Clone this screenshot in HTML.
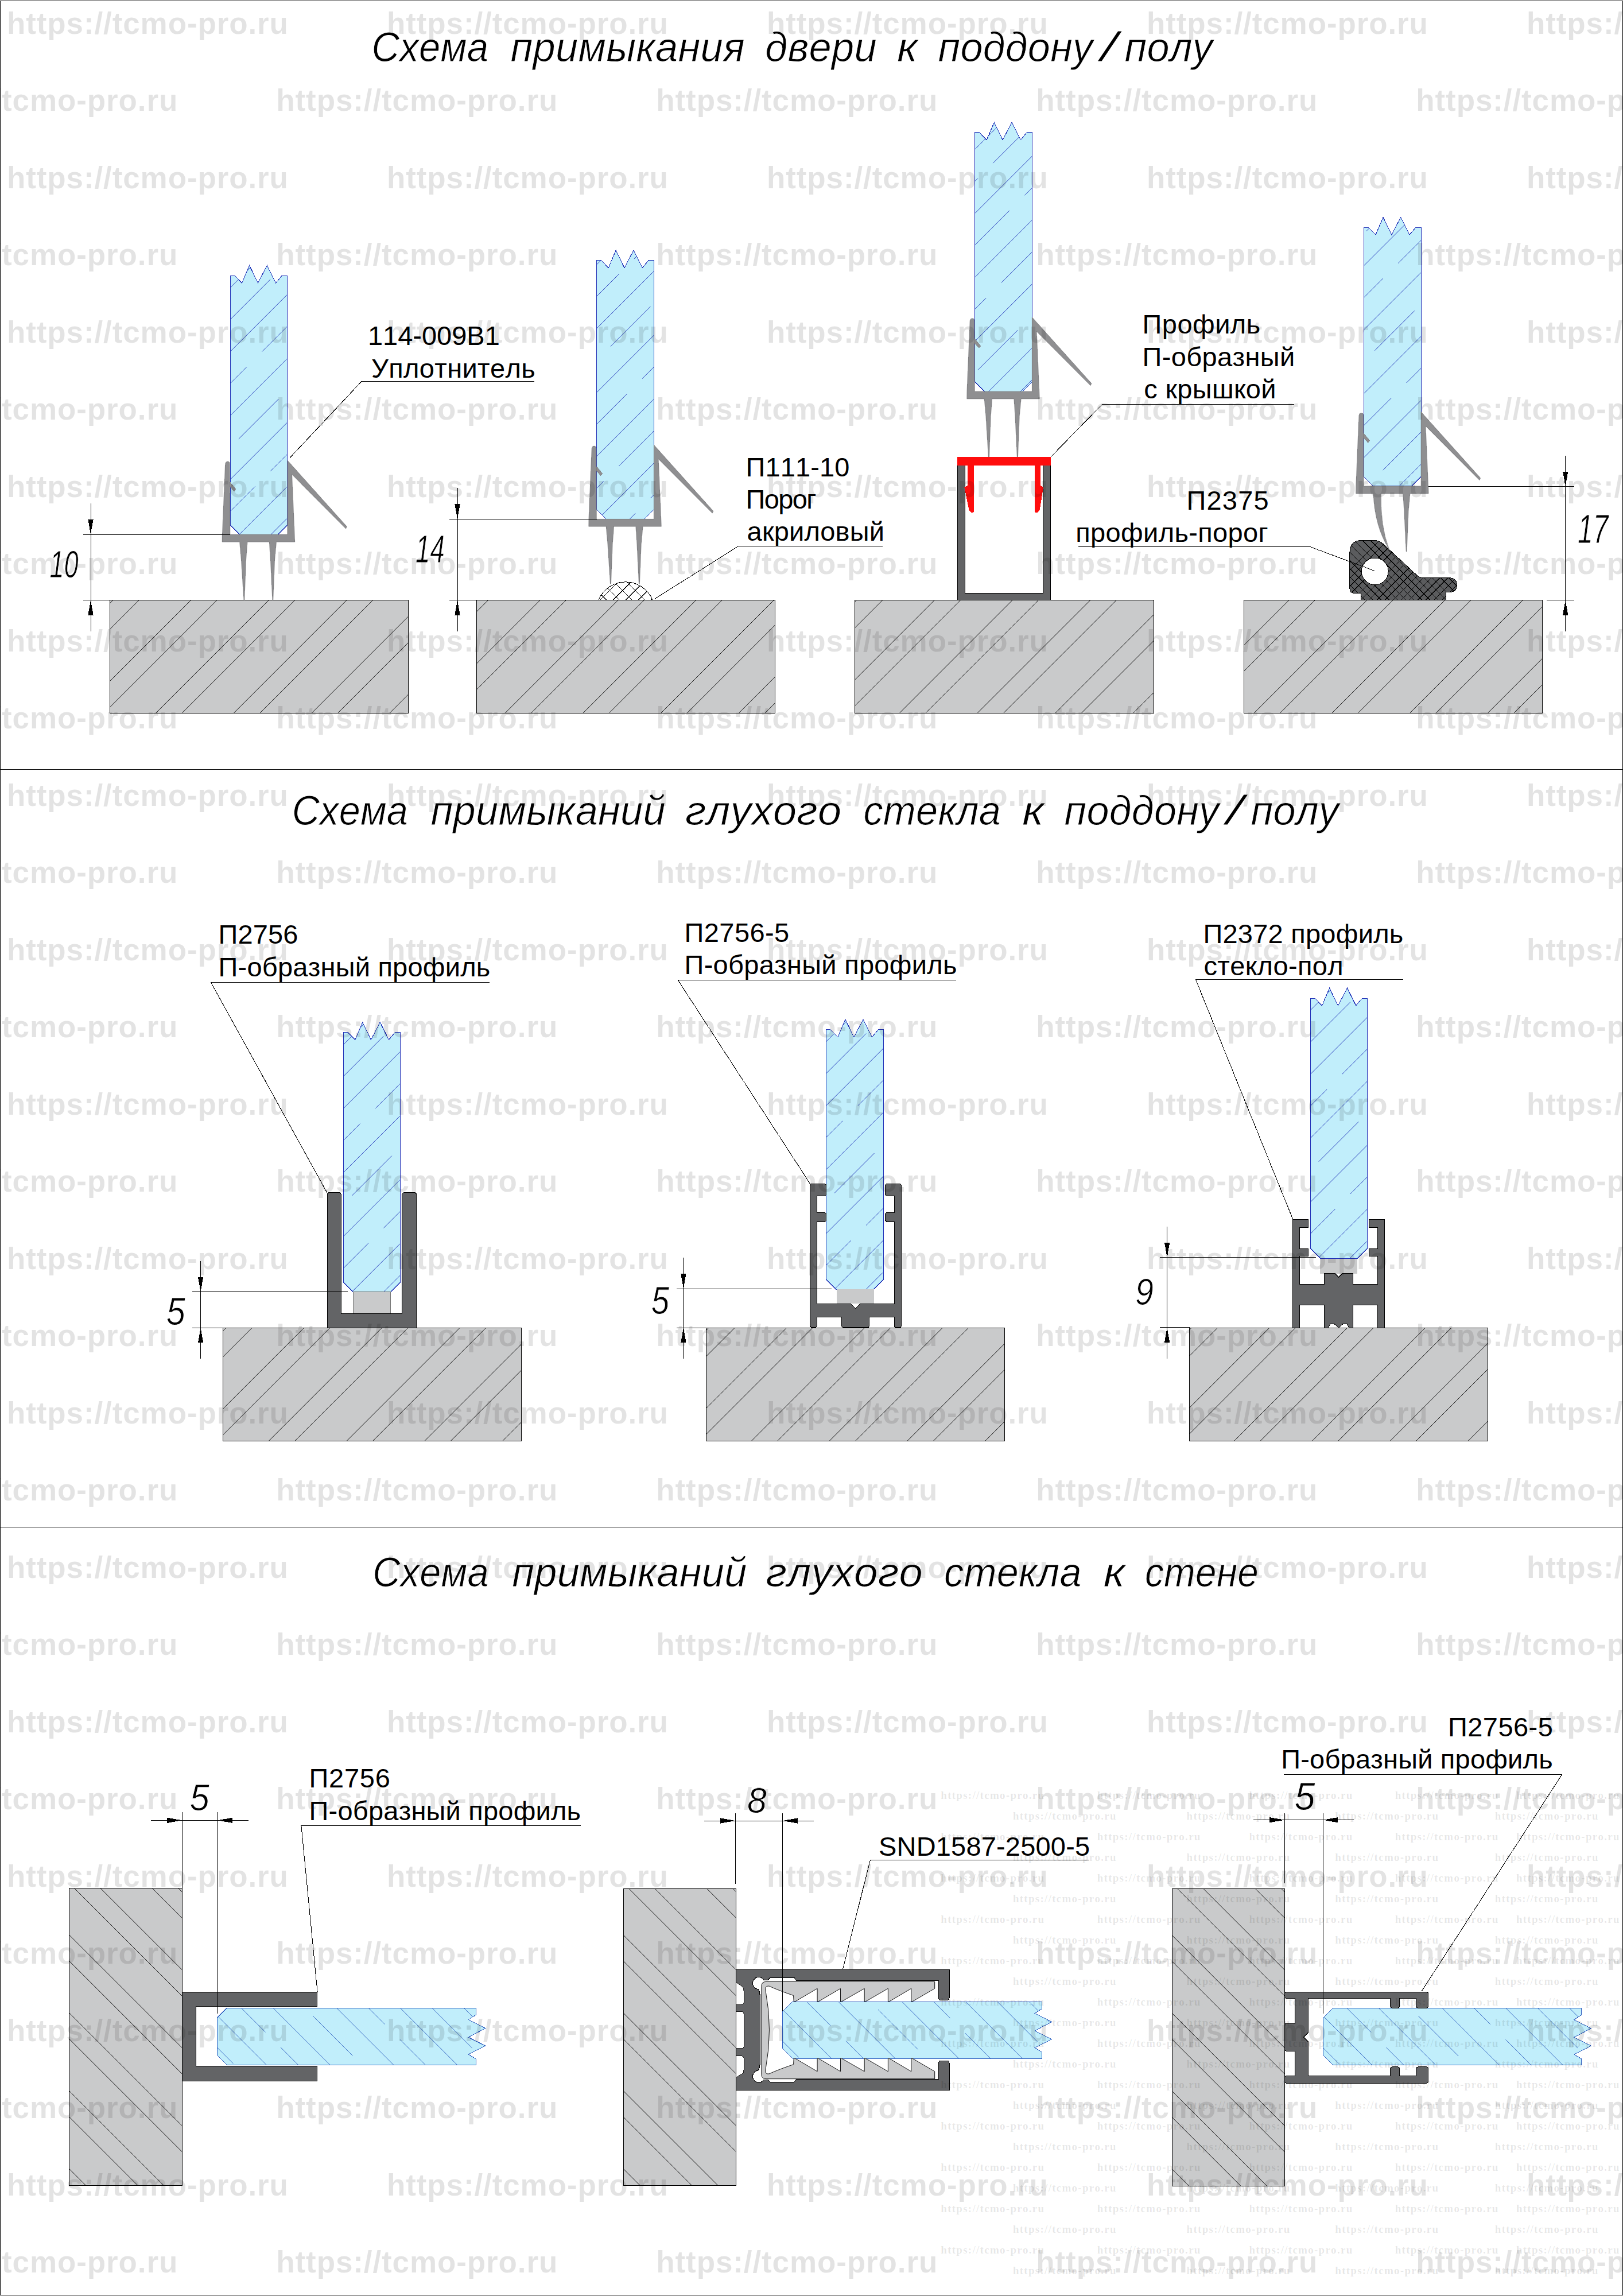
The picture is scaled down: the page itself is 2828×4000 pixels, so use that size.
<!DOCTYPE html>
<html lang="ru"><head><meta charset="utf-8"><title>Схема примыкания</title>
<style>html,body{margin:0;padding:0;background:#fff}svg{display:block}</style></head>
<body>
<svg width="2828" height="4000" viewBox="0 0 2828 4000" font-family="'Liberation Sans', Arial, Helvetica, sans-serif" fill="#000" shape-rendering="crispEdges" style="font-kerning:none;letter-spacing:0.3px">
<defs>
<clipPath id="c1"><rect x="191.4" y="1045.5" width="519.7" height="196.7"/></clipPath>
<clipPath id="c2"><rect x="830" y="1045.5" width="520" height="196.7"/></clipPath>
<clipPath id="c3"><rect x="1489.7" y="1045.5" width="520.3" height="196.7"/></clipPath>
<clipPath id="c4"><rect x="2167.3" y="1045.5" width="520" height="196.7"/></clipPath>
<clipPath id="c5"><polygon points="401.2,480 408.9,480 421.6,493 434.6,462.4 449.4,493 465.4,462.4 480.6,493 491.4,480 500.6,480 500.6,914.8 484.1,931.3 417.7,931.3 401.2,914.8"/></clipPath>
<clipPath id="c6"><polygon points="1039.8,453.6 1047.5,453.6 1060.2,466.6 1073.2,436 1088,466.6 1104,436 1119.2,466.6 1130,453.6 1139.2,453.6 1139.2,887.9 1122.7,904.4 1056.3,904.4 1039.8,887.9"/></clipPath>
<clipPath id="c7"><path d="M1043.1,1045 A51,51 0 0 1 1137,1045 Z"/></clipPath>
<clipPath id="c8"><polygon points="1698.8,230.7 1706.5,230.7 1719.2,243.7 1732.3,213.1 1747.1,243.7 1763.1,213.1 1778.4,243.7 1789.2,230.7 1798.4,230.7 1798.4,665.5 1781.9,682 1715.3,682 1698.8,665.5"/></clipPath>
<clipPath id="c9"><polygon points="2376.6,396 2384.3,396 2397,409 2410,378.4 2424.8,409 2440.8,378.4 2456,409 2466.8,396 2476,396 2476,830.4 2459.5,846.9 2393.1,846.9 2376.6,830.4"/></clipPath>
<clipPath id="c10"><path d="M2371.2,1045 L2371.2,1033.5 L2360,1033.5 Q2351.9,1033.5 2351.9,1025 L2351.9,963 Q2351.9,941.4 2373,941.4 L2394,941.4 Q2404,941.4 2411,948.5 L2468,1001.5 Q2473.5,1006.9 2482,1006.9 L2526,1006.9 Q2538.3,1006.9 2538.3,1019.2 Q2538.3,1031.5 2526,1031.5 L2519.7,1031.5 L2519.7,1045 Z"/></clipPath>
<clipPath id="c11"><rect x="388.3" y="2313.4" width="520.1" height="196.8"/></clipPath>
<clipPath id="c12"><rect x="1230.8" y="2313" width="519.5" height="197.4"/></clipPath>
<clipPath id="c13"><rect x="2072.6" y="2313" width="519.9" height="197.3"/></clipPath>
<clipPath id="c14"><polygon points="598.5,1798.5 606.2,1798.5 618.8,1811.5 631.7,1780.9 646.4,1811.5 662.3,1780.9 677.4,1811.5 688.2,1798.5 697.3,1798.5 697.3,2234.2 680.8,2250.7 615,2250.7 598.5,2234.2"/></clipPath>
<clipPath id="c15"><polygon points="1439.3,1793.8 1447.1,1793.8 1459.9,1806.8 1473,1776.2 1487.9,1806.8 1504,1776.2 1519.3,1806.8 1530.2,1793.8 1539.5,1793.8 1539.5,2228.8 1522,2246.3 1456.8,2246.3 1439.3,2228.8"/></clipPath>
<clipPath id="c16"><polygon points="2283.1,1739 2290.8,1739 2303.6,1752 2316.6,1721.4 2331.4,1752 2347.5,1721.4 2362.7,1752 2373.6,1739 2382.8,1739 2382.8,2174.7 2365.3,2192.2 2300.6,2192.2 2283.1,2174.7"/></clipPath>
<clipPath id="c17"><rect x="120.4" y="3289.8" width="196.9" height="517.4"/></clipPath>
<clipPath id="c18"><rect x="1086.3" y="3290.2" width="195.9" height="517.6"/></clipPath>
<clipPath id="c19"><rect x="2042.3" y="3290.6" width="196" height="517.4"/></clipPath>
<clipPath id="c20"><polygon points="395.6,3498 829,3498 829,3510.3 816.2,3518.7 845.8,3533.5 816.2,3549.3 845.8,3564.1 816.2,3578.9 829,3586.8 829,3597.6 395.6,3597.6 378.6,3580.6 378.6,3515"/></clipPath>
<clipPath id="c21"><polygon points="1381.1,3487 1815.8,3487 1815.8,3499.3 1803,3507.6 1832.6,3522.4 1803,3538 1832.6,3552.7 1803,3567.5 1815.8,3575.3 1815.8,3586.1 1381.1,3586.1 1363.6,3568.6 1363.6,3504.5"/></clipPath>
<clipPath id="c22"><polygon points="2322.6,3498.2 2755.5,3498.2 2755.5,3510.5 2742.7,3518.9 2772.3,3533.7 2742.7,3549.4 2772.3,3564.2 2742.7,3579 2755.5,3586.9 2755.5,3597.7 2322.6,3597.7 2305.1,3580.2 2305.1,3515.7"/></clipPath>
</defs>
<rect x="0" y="0" width="2828" height="4000" fill="#fff"/>
<text x="647.5" y="106.6" font-size="73" font-style="italic" stroke="#fff" stroke-width="0.9" textLength="203.8" lengthAdjust="spacingAndGlyphs">Схема</text>
<text x="889.4" y="106.6" font-size="73" font-style="italic" stroke="#fff" stroke-width="0.9" textLength="408.6" lengthAdjust="spacingAndGlyphs">примыкания</text>
<text x="1333.2" y="106.6" font-size="73" font-style="italic" stroke="#fff" stroke-width="0.9" textLength="194.8" lengthAdjust="spacingAndGlyphs">двери</text>
<text x="1563.1" y="106.6" font-size="73" font-style="italic" stroke="#fff" stroke-width="0.9" textLength="36.4" lengthAdjust="spacingAndGlyphs">к</text>
<text x="1634.6" y="106.6" font-size="73" font-style="italic" stroke="#fff" stroke-width="0.9" textLength="269.8" lengthAdjust="spacingAndGlyphs">поддону</text>
<text x="1917.8" y="106.6" font-size="73" font-style="italic" stroke="#fff" stroke-width="0.9" textLength="29.4" lengthAdjust="spacingAndGlyphs">/</text>
<text x="1959.6" y="106.6" font-size="73" font-style="italic" stroke="#fff" stroke-width="0.9" textLength="153.7" lengthAdjust="spacingAndGlyphs">полу</text>
<text x="508.7" y="1436.8" font-size="73" font-style="italic" stroke="#fff" stroke-width="0.9" textLength="202.5" lengthAdjust="spacingAndGlyphs">Схема</text>
<text x="750.6" y="1436.8" font-size="73" font-style="italic" stroke="#fff" stroke-width="0.9" textLength="409.4" lengthAdjust="spacingAndGlyphs">примыканий</text>
<text x="1194" y="1436.8" font-size="73" font-style="italic" stroke="#fff" stroke-width="0.9" textLength="272.4" lengthAdjust="spacingAndGlyphs">глухого</text>
<text x="1504.4" y="1436.8" font-size="73" font-style="italic" stroke="#fff" stroke-width="0.9" textLength="239.7" lengthAdjust="spacingAndGlyphs">стекла</text>
<text x="1781.1" y="1436.8" font-size="73" font-style="italic" stroke="#fff" stroke-width="0.9" textLength="38.6" lengthAdjust="spacingAndGlyphs">к</text>
<text x="1854.6" y="1436.8" font-size="73" font-style="italic" stroke="#fff" stroke-width="0.9" textLength="269.9" lengthAdjust="spacingAndGlyphs">поддону</text>
<text x="2136.7" y="1436.8" font-size="73" font-style="italic" stroke="#fff" stroke-width="0.9" textLength="29.7" lengthAdjust="spacingAndGlyphs">/</text>
<text x="2179.6" y="1436.8" font-size="73" font-style="italic" stroke="#fff" stroke-width="0.9" textLength="153.7" lengthAdjust="spacingAndGlyphs">полу</text>
<text x="649.3" y="2763.8" font-size="73" font-style="italic" stroke="#fff" stroke-width="0.9" textLength="202.6" lengthAdjust="spacingAndGlyphs">Схема</text>
<text x="892.2" y="2763.8" font-size="73" font-style="italic" stroke="#fff" stroke-width="0.9" textLength="409.4" lengthAdjust="spacingAndGlyphs">примыканий</text>
<text x="1334.6" y="2763.8" font-size="73" font-style="italic" stroke="#fff" stroke-width="0.9" textLength="273.5" lengthAdjust="spacingAndGlyphs">глухого</text>
<text x="1645" y="2763.8" font-size="73" font-style="italic" stroke="#fff" stroke-width="0.9" textLength="239.7" lengthAdjust="spacingAndGlyphs">стекла</text>
<text x="1922.4" y="2763.8" font-size="73" font-style="italic" stroke="#fff" stroke-width="0.9" textLength="38.5" lengthAdjust="spacingAndGlyphs">к</text>
<text x="1995" y="2763.8" font-size="73" font-style="italic" stroke="#fff" stroke-width="0.9" textLength="198.1" lengthAdjust="spacingAndGlyphs">стене</text>
<rect x="191.4" y="1045.5" width="519.7" height="196.7" fill="#c9cacb" stroke="#000" stroke-width="1"/>
<g clip-path="url(#c1)" stroke="#000" stroke-width="0.9" shape-rendering="geometricPrecision">
<line x1="196.8" y1="1045.5" x2="0.1" y2="1242.2"/>
<line x1="242.2" y1="1045.5" x2="45.5" y2="1242.2"/>
<line x1="332.6" y1="1045.5" x2="135.9" y2="1242.2"/>
<line x1="378" y1="1045.5" x2="181.3" y2="1242.2"/>
<line x1="468.4" y1="1045.5" x2="271.7" y2="1242.2"/>
<line x1="513.8" y1="1045.5" x2="317.1" y2="1242.2"/>
<line x1="604.2" y1="1045.5" x2="407.5" y2="1242.2"/>
<line x1="649.6" y1="1045.5" x2="452.9" y2="1242.2"/>
<line x1="740" y1="1045.5" x2="543.3" y2="1242.2"/>
<line x1="785.4" y1="1045.5" x2="588.7" y2="1242.2"/>
<line x1="875.8" y1="1045.5" x2="679.1" y2="1242.2"/>
</g>
<rect x="830" y="1045.5" width="520" height="196.7" fill="#c9cacb" stroke="#000" stroke-width="1"/>
<g clip-path="url(#c2)" stroke="#000" stroke-width="0.9" shape-rendering="geometricPrecision">
<line x1="850.7" y1="1045.5" x2="654" y2="1242.2"/>
<line x1="941.1" y1="1045.5" x2="744.4" y2="1242.2"/>
<line x1="986.5" y1="1045.5" x2="789.8" y2="1242.2"/>
<line x1="1076.9" y1="1045.5" x2="880.2" y2="1242.2"/>
<line x1="1122.3" y1="1045.5" x2="925.6" y2="1242.2"/>
<line x1="1212.7" y1="1045.5" x2="1016" y2="1242.2"/>
<line x1="1258.1" y1="1045.5" x2="1061.4" y2="1242.2"/>
<line x1="1348.5" y1="1045.5" x2="1151.8" y2="1242.2"/>
<line x1="1393.9" y1="1045.5" x2="1197.2" y2="1242.2"/>
<line x1="1484.3" y1="1045.5" x2="1287.6" y2="1242.2"/>
<line x1="1529.7" y1="1045.5" x2="1333" y2="1242.2"/>
</g>
<rect x="1489.7" y="1045.5" width="520.3" height="196.7" fill="#c9cacb" stroke="#000" stroke-width="1"/>
<g clip-path="url(#c3)" stroke="#000" stroke-width="0.9" shape-rendering="geometricPrecision">
<line x1="1492.5" y1="1045.5" x2="1295.8" y2="1242.2"/>
<line x1="1537.9" y1="1045.5" x2="1341.2" y2="1242.2"/>
<line x1="1628.3" y1="1045.5" x2="1431.6" y2="1242.2"/>
<line x1="1673.7" y1="1045.5" x2="1477" y2="1242.2"/>
<line x1="1764.1" y1="1045.5" x2="1567.4" y2="1242.2"/>
<line x1="1809.5" y1="1045.5" x2="1612.8" y2="1242.2"/>
<line x1="1899.9" y1="1045.5" x2="1703.2" y2="1242.2"/>
<line x1="1945.3" y1="1045.5" x2="1748.6" y2="1242.2"/>
<line x1="2035.7" y1="1045.5" x2="1839" y2="1242.2"/>
<line x1="2081.1" y1="1045.5" x2="1884.4" y2="1242.2"/>
<line x1="2171.5" y1="1045.5" x2="1974.8" y2="1242.2"/>
</g>
<rect x="2167.3" y="1045.5" width="520" height="196.7" fill="#c9cacb" stroke="#000" stroke-width="1"/>
<g clip-path="url(#c4)" stroke="#000" stroke-width="0.9" shape-rendering="geometricPrecision">
<line x1="2246" y1="1045.5" x2="2049.3" y2="1242.2"/>
<line x1="2291.4" y1="1045.5" x2="2094.7" y2="1242.2"/>
<line x1="2381.8" y1="1045.5" x2="2185.1" y2="1242.2"/>
<line x1="2427.2" y1="1045.5" x2="2230.5" y2="1242.2"/>
<line x1="2517.6" y1="1045.5" x2="2320.9" y2="1242.2"/>
<line x1="2563" y1="1045.5" x2="2366.3" y2="1242.2"/>
<line x1="2653.4" y1="1045.5" x2="2456.7" y2="1242.2"/>
<line x1="2698.8" y1="1045.5" x2="2502.1" y2="1242.2"/>
<line x1="2789.2" y1="1045.5" x2="2592.5" y2="1242.2"/>
<line x1="2834.6" y1="1045.5" x2="2637.9" y2="1242.2"/>
</g>
<polygon points="401.2,480 408.9,480 421.6,493 434.6,462.4 449.4,493 465.4,462.4 480.6,493 491.4,480 500.6,480 500.6,914.8 484.1,931.3 417.7,931.3 401.2,914.8" fill="#c1eefb" stroke="#2132b8" stroke-width="1"/>
<g clip-path="url(#c5)" stroke="#2132b8" stroke-width="0.9" shape-rendering="geometricPrecision">
<line x1="401.2" y1="278.4" x2="500.6" y2="179"/>
<line x1="401.2" y1="389.8" x2="500.6" y2="290.4"/>
<line x1="401.2" y1="501.2" x2="500.6" y2="401.8"/>
<line x1="401.2" y1="612.6" x2="500.6" y2="513.2"/>
<line x1="401.2" y1="724" x2="500.6" y2="624.6"/>
<line x1="401.2" y1="835.4" x2="500.6" y2="736"/>
<line x1="401.2" y1="946.8" x2="500.6" y2="847.4"/>
<line x1="401.2" y1="1058.2" x2="500.6" y2="958.8"/>
<line x1="401.2" y1="1169.6" x2="500.6" y2="1070.2"/>
<line x1="387.1" y1="347.9" x2="456.6" y2="278.4"/>
<line x1="483.1" y1="251.9" x2="552.6" y2="182.4"/>
<line x1="346.3" y1="500.1" x2="415.8" y2="430.6"/>
<line x1="442.3" y1="404.1" x2="511.8" y2="334.6"/>
<line x1="401.5" y1="556.3" x2="471" y2="486.8"/>
<line x1="497.5" y1="460.3" x2="567" y2="390.8"/>
<line x1="360.7" y1="708.5" x2="430.2" y2="639"/>
<line x1="456.7" y1="612.5" x2="526.2" y2="543"/>
<line x1="415.9" y1="764.7" x2="485.4" y2="695.2"/>
<line x1="375.1" y1="916.9" x2="444.6" y2="847.4"/>
<line x1="471.1" y1="820.9" x2="540.6" y2="751.4"/>
<line x1="334.3" y1="1069.1" x2="403.8" y2="999.6"/>
<line x1="430.3" y1="973.1" x2="499.8" y2="903.6"/>
<line x1="389.5" y1="1125.3" x2="459" y2="1055.8"/>
<line x1="485.5" y1="1029.3" x2="555" y2="959.8"/>
<line x1="348.7" y1="1277.5" x2="418.2" y2="1208"/>
<line x1="444.7" y1="1181.5" x2="514.2" y2="1112"/>
</g>
<g transform="translate(0,0)">
<path d="M400.3,808 L400.8,931.3 L500.8,931.3 L500.8,802 L604.3,917.3 L602.6,921 L508.6,826.5 L513.7,944.1 L481.5,944.1 L478.6,975 L475.8,1045.1 L474.8,1045.1 L471.4,975 L469.3,944.1 L431,944.1 L428.6,975 L425.9,1045.1 L424.9,1045.1 L420.4,975 L417.6,944.1 L387.2,944.1 L387.4,931 L392.6,808 Q393.2,804 396.6,804 Q400.2,804 400.3,808 Z" fill="#8f8f91" stroke="#77777a" stroke-width="0.7" stroke-linejoin="round"/>
<polygon points="400.9,839.5 411.2,852 408.2,855.6 400.9,847.5" fill="#8f8f91" stroke="#77777a" stroke-width="0.7"/>
</g>
<line x1="145" y1="931" x2="401" y2="931" stroke="#000" stroke-width="1"/>
<line x1="145" y1="1045.5" x2="191.4" y2="1045.5" stroke="#000" stroke-width="1"/>
<line x1="158" y1="877" x2="158" y2="1099.5" stroke="#000" stroke-width="1"/>
<polygon points="158,931 153.4,905 162.6,905" fill="#000"/>
<polygon points="158,1045.5 153.4,1071.5 162.6,1071.5" fill="#000"/>
<text x="86.6" y="1006" font-size="66.8" font-style="italic" stroke="#fff" stroke-width="0.9" textLength="50.2" lengthAdjust="spacingAndGlyphs">10</text>
<text x="641" y="600.5" font-size="47" textLength="230.1" lengthAdjust="spacing">114-009B1</text>
<text x="647" y="658" font-size="47" textLength="286" lengthAdjust="spacing">Уплотнитель</text>
<polyline points="930.6,664.4 630,664.4 505,797.7" fill="none" stroke="#000" stroke-width="1"/>
<polygon points="1039.8,453.6 1047.5,453.6 1060.2,466.6 1073.2,436 1088,466.6 1104,436 1119.2,466.6 1130,453.6 1139.2,453.6 1139.2,887.9 1122.7,904.4 1056.3,904.4 1039.8,887.9" fill="#c1eefb" stroke="#2132b8" stroke-width="1"/>
<g clip-path="url(#c6)" stroke="#2132b8" stroke-width="0.9" shape-rendering="geometricPrecision">
<line x1="1039.8" y1="238" x2="1139.2" y2="138.6"/>
<line x1="1039.8" y1="349.4" x2="1139.2" y2="250"/>
<line x1="1039.8" y1="460.8" x2="1139.2" y2="361.4"/>
<line x1="1039.8" y1="572.2" x2="1139.2" y2="472.8"/>
<line x1="1039.8" y1="683.6" x2="1139.2" y2="584.2"/>
<line x1="1039.8" y1="795" x2="1139.2" y2="695.6"/>
<line x1="1039.8" y1="906.4" x2="1139.2" y2="807"/>
<line x1="1039.8" y1="1017.8" x2="1139.2" y2="918.4"/>
<line x1="1039.8" y1="1129.2" x2="1139.2" y2="1029.8"/>
<line x1="994.4" y1="338.8" x2="1063.9" y2="269.3"/>
<line x1="1090.4" y1="242.8" x2="1159.9" y2="173.3"/>
<line x1="1049.6" y1="395" x2="1119.1" y2="325.5"/>
<line x1="1008.8" y1="547.2" x2="1078.3" y2="477.7"/>
<line x1="1104.8" y1="451.2" x2="1174.3" y2="381.7"/>
<line x1="1064" y1="603.4" x2="1133.5" y2="533.9"/>
<line x1="1023.2" y1="755.6" x2="1092.7" y2="686.1"/>
<line x1="1119.2" y1="659.6" x2="1188.7" y2="590.1"/>
<line x1="982.4" y1="907.8" x2="1051.9" y2="838.3"/>
<line x1="1078.4" y1="811.8" x2="1147.9" y2="742.3"/>
<line x1="1037.6" y1="964" x2="1107.1" y2="894.5"/>
<line x1="1133.6" y1="868" x2="1203.1" y2="798.5"/>
<line x1="996.8" y1="1116.2" x2="1066.3" y2="1046.7"/>
<line x1="1092.8" y1="1020.2" x2="1162.3" y2="950.7"/>
<line x1="1052" y1="1172.4" x2="1121.5" y2="1102.9"/>
</g>
<path d="M1043.1,1045 A51,51 0 0 1 1137,1045 Z" fill="#fff" stroke="#000" stroke-width="1"/>
<g clip-path="url(#c7)" stroke="#000" stroke-width="1">
<line x1="1023.6" y1="1045" x2="1063.6" y2="1005"/>
<line x1="1045.8" y1="1045" x2="1085.8" y2="1005"/>
<line x1="1068.4" y1="1045" x2="1108.4" y2="1005"/>
<line x1="1090.3" y1="1045" x2="1130.3" y2="1005"/>
<line x1="1112.4" y1="1045" x2="1152.4" y2="1005"/>
<line x1="1134.6" y1="1045" x2="1174.6" y2="1005"/>
<line x1="1056.7" y1="1045" x2="1016.7" y2="1005"/>
<line x1="1078.9" y1="1045" x2="1038.9" y2="1005"/>
<line x1="1101" y1="1045" x2="1061" y2="1005"/>
<line x1="1123.2" y1="1045" x2="1083.2" y2="1005"/>
<line x1="1145.4" y1="1045" x2="1105.4" y2="1005"/>
</g>
<g transform="translate(638.6,-26.9)">
<path d="M400.3,808 L400.8,931.3 L500.8,931.3 L500.8,802 L604.3,917.3 L602.6,921 L508.6,826.5 L513.7,944.1 L481.5,944.1 L478.6,975 L475.8,1044.1 L474.8,1044.1 L471.4,975 L469.3,944.1 L431,944.1 L428.6,975 L425.9,1044.1 L424.9,1044.1 L420.4,975 L417.6,944.1 L387.2,944.1 L387.4,931 L392.6,808 Q393.2,804 396.6,804 Q400.2,804 400.3,808 Z" fill="#8f8f91" stroke="#77777a" stroke-width="0.7" stroke-linejoin="round"/>
<polygon points="400.9,839.5 411.2,852 408.2,855.6 400.9,847.5" fill="#8f8f91" stroke="#77777a" stroke-width="0.7"/>
</g>
<line x1="782.7" y1="904.4" x2="1039.8" y2="904.4" stroke="#000" stroke-width="1"/>
<line x1="782.7" y1="1045.5" x2="830" y2="1045.5" stroke="#000" stroke-width="1"/>
<line x1="797" y1="850.4" x2="797" y2="1099.5" stroke="#000" stroke-width="1"/>
<polygon points="797,904.4 792.4,878.4 801.6,878.4" fill="#000"/>
<polygon points="797,1045.5 792.4,1071.5 801.6,1071.5" fill="#000"/>
<text x="724.1" y="980.4" font-size="69.4" font-style="italic" stroke="#fff" stroke-width="0.9" textLength="50.9" lengthAdjust="spacingAndGlyphs">14</text>
<text x="1299.6" y="829.7" font-size="47" textLength="181.1" lengthAdjust="spacing">П111-10</text>
<text x="1299.5" y="885.7" font-size="47" textLength="123.1" lengthAdjust="spacing">Порог</text>
<text x="1301.6" y="942.4" font-size="47" textLength="239.7" lengthAdjust="spacing">акриловый</text>
<polyline points="1538.2,951 1287.3,951 1140.6,1043.5" fill="none" stroke="#000" stroke-width="1"/>
<polygon points="1698.8,230.7 1706.5,230.7 1719.2,243.7 1732.3,213.1 1747.1,243.7 1763.1,213.1 1778.4,243.7 1789.2,230.7 1798.4,230.7 1798.4,665.5 1781.9,682 1715.3,682 1698.8,665.5" fill="#c1eefb" stroke="#2132b8" stroke-width="1"/>
<g clip-path="url(#c8)" stroke="#2132b8" stroke-width="0.9" shape-rendering="geometricPrecision">
<line x1="1698.8" y1="37.4" x2="1798.4" y2="-62.2"/>
<line x1="1698.8" y1="148.8" x2="1798.4" y2="49.2"/>
<line x1="1698.8" y1="260.2" x2="1798.4" y2="160.6"/>
<line x1="1698.8" y1="371.6" x2="1798.4" y2="272"/>
<line x1="1698.8" y1="483" x2="1798.4" y2="383.4"/>
<line x1="1698.8" y1="594.4" x2="1798.4" y2="494.8"/>
<line x1="1698.8" y1="705.8" x2="1798.4" y2="606.2"/>
<line x1="1698.8" y1="817.2" x2="1798.4" y2="717.6"/>
<line x1="1698.8" y1="928.6" x2="1798.4" y2="829"/>
<line x1="1715.9" y1="75.7" x2="1785.4" y2="6.2"/>
<line x1="1675.1" y1="227.9" x2="1744.6" y2="158.4"/>
<line x1="1771.1" y1="131.9" x2="1840.6" y2="62.4"/>
<line x1="1634.3" y1="380.1" x2="1703.8" y2="310.6"/>
<line x1="1730.3" y1="284.1" x2="1799.8" y2="214.6"/>
<line x1="1689.5" y1="436.3" x2="1759" y2="366.8"/>
<line x1="1785.5" y1="340.3" x2="1855" y2="270.8"/>
<line x1="1648.7" y1="588.5" x2="1718.2" y2="519"/>
<line x1="1744.7" y1="492.5" x2="1814.2" y2="423"/>
<line x1="1703.9" y1="644.7" x2="1773.4" y2="575.2"/>
<line x1="1663.1" y1="796.9" x2="1732.6" y2="727.4"/>
<line x1="1759.1" y1="700.9" x2="1828.6" y2="631.4"/>
<line x1="1718.3" y1="853.1" x2="1787.8" y2="783.6"/>
<line x1="1677.5" y1="1005.3" x2="1747" y2="935.8"/>
<line x1="1773.5" y1="909.3" x2="1843" y2="839.8"/>
</g>
<g transform="translate(1297.6,-249.3)">
<path d="M400.3,808 L400.8,931.3 L500.8,931.3 L500.8,802 L604.3,917.3 L602.6,921 L508.6,826.5 L513.7,944.1 L481.5,944.1 L478.6,975 L475.8,1047.1 L474.8,1047.1 L471.4,975 L469.3,944.1 L431,944.1 L428.6,975 L425.9,1047.1 L424.9,1047.1 L420.4,975 L417.6,944.1 L387.2,944.1 L387.4,931 L392.6,808 Q393.2,804 396.6,804 Q400.2,804 400.3,808 Z" fill="#8f8f91" stroke="#77777a" stroke-width="0.7" stroke-linejoin="round"/>
<polygon points="400.9,839.5 411.2,852 408.2,855.6 400.9,847.5" fill="#8f8f91" stroke="#77777a" stroke-width="0.7"/>
</g>
<path d="M1668.4,809.9 L1668.4,1045.2 L1830.7,1045.2 L1830.7,809.9 L1817.2,809.9 L1817.2,1033 L1681.3,1033 L1681.3,809.9 Z" fill="#636466" stroke="#000" stroke-width="1"/>
<path d="M1668.4,797 L1830.7,797 L1830.7,809.9 L1812.2,809.9 L1812.2,846 L1817.4,849.5 L1811,888 Q1809,892.5 1805.5,892.5 Q1803.3,892.5 1803.3,889 L1803.3,809.9 L1696.7,809.9 L1696.7,889 Q1696.7,892.5 1694.3,892.5 Q1691,892.5 1689,888 L1681.1,849.5 L1686.9,846 L1686.9,809.9 L1668.4,809.9 Z" fill="#ff0d0d" stroke="#ff0d0d" stroke-width="1.2" stroke-linejoin="round"/>
<text x="1990.6" y="581" font-size="47" textLength="205.9" lengthAdjust="spacing">Профиль</text>
<text x="1990.6" y="638" font-size="47" textLength="265.9" lengthAdjust="spacing">П-образный</text>
<text x="1993.2" y="694" font-size="47" textLength="230.7" lengthAdjust="spacing">с крышкой</text>
<polyline points="2254.5,704.3 1920.6,704.3 1831,796" fill="none" stroke="#000" stroke-width="1"/>
<polygon points="2376.6,396 2384.3,396 2397,409 2410,378.4 2424.8,409 2440.8,378.4 2456,409 2466.8,396 2476,396 2476,830.4 2459.5,846.9 2393.1,846.9 2376.6,830.4" fill="#c1eefb" stroke="#2132b8" stroke-width="1"/>
<g clip-path="url(#c9)" stroke="#2132b8" stroke-width="0.9" shape-rendering="geometricPrecision">
<line x1="2376.6" y1="240" x2="2476" y2="140.6"/>
<line x1="2376.6" y1="351.4" x2="2476" y2="252"/>
<line x1="2376.6" y1="462.8" x2="2476" y2="363.4"/>
<line x1="2376.6" y1="574.2" x2="2476" y2="474.8"/>
<line x1="2376.6" y1="685.6" x2="2476" y2="586.2"/>
<line x1="2376.6" y1="797" x2="2476" y2="697.6"/>
<line x1="2376.6" y1="908.4" x2="2476" y2="809"/>
<line x1="2376.6" y1="1019.8" x2="2476" y2="920.4"/>
<line x1="2376.6" y1="1131.2" x2="2476" y2="1031.8"/>
<line x1="2325.8" y1="346.2" x2="2395.3" y2="276.7"/>
<line x1="2421.8" y1="250.2" x2="2491.3" y2="180.7"/>
<line x1="2381" y1="402.4" x2="2450.5" y2="332.9"/>
<line x1="2340.2" y1="554.6" x2="2409.7" y2="485.1"/>
<line x1="2436.2" y1="458.6" x2="2505.7" y2="389.1"/>
<line x1="2395.4" y1="610.8" x2="2464.9" y2="541.3"/>
<line x1="2354.6" y1="763" x2="2424.1" y2="693.5"/>
<line x1="2450.6" y1="667" x2="2520.1" y2="597.5"/>
<line x1="2313.8" y1="915.2" x2="2383.3" y2="845.7"/>
<line x1="2409.8" y1="819.2" x2="2479.3" y2="749.7"/>
<line x1="2369" y1="971.4" x2="2438.5" y2="901.9"/>
<line x1="2465" y1="875.4" x2="2534.5" y2="805.9"/>
<line x1="2328.2" y1="1123.6" x2="2397.7" y2="1054.1"/>
<line x1="2424.2" y1="1027.6" x2="2493.7" y2="958.1"/>
<line x1="2383.4" y1="1179.8" x2="2452.9" y2="1110.3"/>
</g>
<g transform="translate(1975.4,-84.4)">
<path d="M400.3,808 L400.8,931.3 L500.8,931.3 L500.8,802 L604.3,917.3 L602.6,921 L508.6,826.5 L513.7,944.1 L481.5,944.1 L478.6,975 L475.8,1045.1 L474.8,1045.1 L471.4,975 L469.3,944.1 L431,944.1 Q429.5,1000 444.7,1040.5 Q420.5,1003 417.6,944.1 L387.2,944.1 L387.4,931 L392.6,808 Q393.2,804 396.6,804 Q400.2,804 400.3,808 Z" fill="#8f8f91" stroke="#77777a" stroke-width="0.7" stroke-linejoin="round"/>
<polygon points="400.9,839.5 411.2,852 408.2,855.6 400.9,847.5" fill="#8f8f91" stroke="#77777a" stroke-width="0.7"/>
</g>
<path d="M2371.2,1045 L2371.2,1033.5 L2360,1033.5 Q2351.9,1033.5 2351.9,1025 L2351.9,963 Q2351.9,941.4 2373,941.4 L2394,941.4 Q2404,941.4 2411,948.5 L2468,1001.5 Q2473.5,1006.9 2482,1006.9 L2526,1006.9 Q2538.3,1006.9 2538.3,1019.2 Q2538.3,1031.5 2526,1031.5 L2519.7,1031.5 L2519.7,1045 Z" fill="#5b5c5e" stroke="#000" stroke-width="1"/>
<g clip-path="url(#c10)" stroke="#000" stroke-width="1">
<line x1="2300" y1="1045" x2="2420" y2="925"/>
<line x1="2307" y1="1045" x2="2187" y2="925"/>
<line x1="2314.2" y1="1045" x2="2434.2" y2="925"/>
<line x1="2321.2" y1="1045" x2="2201.2" y2="925"/>
<line x1="2328.4" y1="1045" x2="2448.4" y2="925"/>
<line x1="2335.4" y1="1045" x2="2215.4" y2="925"/>
<line x1="2342.6" y1="1045" x2="2462.6" y2="925"/>
<line x1="2349.6" y1="1045" x2="2229.6" y2="925"/>
<line x1="2356.8" y1="1045" x2="2476.8" y2="925"/>
<line x1="2363.8" y1="1045" x2="2243.8" y2="925"/>
<line x1="2371" y1="1045" x2="2491" y2="925"/>
<line x1="2378" y1="1045" x2="2258" y2="925"/>
<line x1="2385.2" y1="1045" x2="2505.2" y2="925"/>
<line x1="2392.2" y1="1045" x2="2272.2" y2="925"/>
<line x1="2399.4" y1="1045" x2="2519.4" y2="925"/>
<line x1="2406.4" y1="1045" x2="2286.4" y2="925"/>
<line x1="2413.6" y1="1045" x2="2533.6" y2="925"/>
<line x1="2420.6" y1="1045" x2="2300.6" y2="925"/>
<line x1="2427.8" y1="1045" x2="2547.8" y2="925"/>
<line x1="2434.8" y1="1045" x2="2314.8" y2="925"/>
<line x1="2442" y1="1045" x2="2562" y2="925"/>
<line x1="2449" y1="1045" x2="2329" y2="925"/>
<line x1="2456.2" y1="1045" x2="2576.2" y2="925"/>
<line x1="2463.2" y1="1045" x2="2343.2" y2="925"/>
<line x1="2470.4" y1="1045" x2="2590.4" y2="925"/>
<line x1="2477.4" y1="1045" x2="2357.4" y2="925"/>
<line x1="2484.6" y1="1045" x2="2604.6" y2="925"/>
<line x1="2491.6" y1="1045" x2="2371.6" y2="925"/>
<line x1="2498.8" y1="1045" x2="2618.8" y2="925"/>
<line x1="2505.8" y1="1045" x2="2385.8" y2="925"/>
<line x1="2513" y1="1045" x2="2633" y2="925"/>
<line x1="2520" y1="1045" x2="2400" y2="925"/>
<line x1="2527.2" y1="1045" x2="2647.2" y2="925"/>
<line x1="2534.2" y1="1045" x2="2414.2" y2="925"/>
<line x1="2541.4" y1="1045" x2="2661.4" y2="925"/>
<line x1="2548.4" y1="1045" x2="2428.4" y2="925"/>
<line x1="2555.6" y1="1045" x2="2675.6" y2="925"/>
<line x1="2562.6" y1="1045" x2="2442.6" y2="925"/>
<line x1="2569.8" y1="1045" x2="2689.8" y2="925"/>
<line x1="2576.8" y1="1045" x2="2456.8" y2="925"/>
<line x1="2584" y1="1045" x2="2704" y2="925"/>
<line x1="2591" y1="1045" x2="2471" y2="925"/>
<line x1="2598.2" y1="1045" x2="2718.2" y2="925"/>
<line x1="2605.2" y1="1045" x2="2485.2" y2="925"/>
<line x1="2612.4" y1="1045" x2="2732.4" y2="925"/>
<line x1="2619.4" y1="1045" x2="2499.4" y2="925"/>
<line x1="2626.6" y1="1045" x2="2746.6" y2="925"/>
<line x1="2633.6" y1="1045" x2="2513.6" y2="925"/>
<line x1="2640.8" y1="1045" x2="2760.8" y2="925"/>
<line x1="2647.8" y1="1045" x2="2527.8" y2="925"/>
<line x1="2655" y1="1045" x2="2775" y2="925"/>
<line x1="2662" y1="1045" x2="2542" y2="925"/>
<line x1="2669.2" y1="1045" x2="2789.2" y2="925"/>
<line x1="2676.2" y1="1045" x2="2556.2" y2="925"/>
<line x1="2683.4" y1="1045" x2="2803.4" y2="925"/>
<line x1="2690.4" y1="1045" x2="2570.4" y2="925"/>
<line x1="2697.6" y1="1045" x2="2817.6" y2="925"/>
<line x1="2704.6" y1="1045" x2="2584.6" y2="925"/>
</g>
<circle cx="2395.8" cy="995.4" r="23.4" fill="#fff" stroke="#000" stroke-width="1"/>
<line x1="2489" y1="847.5" x2="2742.6" y2="847.5" stroke="#000" stroke-width="1"/>
<line x1="2694.6" y1="1045.5" x2="2742.6" y2="1045.5" stroke="#000" stroke-width="1"/>
<line x1="2727.7" y1="793.5" x2="2727.7" y2="1099.5" stroke="#000" stroke-width="1"/>
<polygon points="2727.7,847.5 2723.1,821.5 2732.3,821.5" fill="#000"/>
<polygon points="2727.7,1045.5 2723.1,1071.5 2732.3,1071.5" fill="#000"/>
<text x="2749" y="946.4" font-size="71" font-style="italic" stroke="#fff" stroke-width="0.9" textLength="53.5" lengthAdjust="spacingAndGlyphs">17</text>
<text x="2067.5" y="888" font-size="47" textLength="143.5" lengthAdjust="spacing">П2375</text>
<text x="1874.2" y="943.7" font-size="47" textLength="335.8" lengthAdjust="spacing">профиль-порог</text>
<polyline points="1879,952.2 2281.8,952.2 2394.8,994.4" fill="none" stroke="#000" stroke-width="1"/>
<rect x="388.3" y="2313.4" width="520.1" height="196.8" fill="#c9cacb" stroke="#000" stroke-width="1"/>
<g clip-path="url(#c11)" stroke="#000" stroke-width="0.9" shape-rendering="geometricPrecision">
<line x1="393.7" y1="2313.4" x2="196.9" y2="2510.2"/>
<line x1="439.1" y1="2313.4" x2="242.3" y2="2510.2"/>
<line x1="529.5" y1="2313.4" x2="332.7" y2="2510.2"/>
<line x1="574.9" y1="2313.4" x2="378.1" y2="2510.2"/>
<line x1="665.3" y1="2313.4" x2="468.5" y2="2510.2"/>
<line x1="710.7" y1="2313.4" x2="513.9" y2="2510.2"/>
<line x1="801.1" y1="2313.4" x2="604.3" y2="2510.2"/>
<line x1="846.5" y1="2313.4" x2="649.7" y2="2510.2"/>
<line x1="936.9" y1="2313.4" x2="740.1" y2="2510.2"/>
<line x1="982.3" y1="2313.4" x2="785.5" y2="2510.2"/>
<line x1="1072.7" y1="2313.4" x2="875.9" y2="2510.2"/>
</g>
<rect x="1230.8" y="2313" width="519.5" height="197.4" fill="#c9cacb" stroke="#000" stroke-width="1"/>
<g clip-path="url(#c12)" stroke="#000" stroke-width="0.9" shape-rendering="geometricPrecision">
<line x1="1235.1" y1="2313" x2="1037.7" y2="2510.4"/>
<line x1="1280.5" y1="2313" x2="1083.1" y2="2510.4"/>
<line x1="1370.9" y1="2313" x2="1173.5" y2="2510.4"/>
<line x1="1416.3" y1="2313" x2="1218.9" y2="2510.4"/>
<line x1="1506.7" y1="2313" x2="1309.3" y2="2510.4"/>
<line x1="1552.1" y1="2313" x2="1354.7" y2="2510.4"/>
<line x1="1642.5" y1="2313" x2="1445.1" y2="2510.4"/>
<line x1="1687.9" y1="2313" x2="1490.5" y2="2510.4"/>
<line x1="1778.3" y1="2313" x2="1580.9" y2="2510.4"/>
<line x1="1823.7" y1="2313" x2="1626.3" y2="2510.4"/>
<line x1="1914.1" y1="2313" x2="1716.7" y2="2510.4"/>
</g>
<rect x="2072.6" y="2313" width="519.9" height="197.3" fill="#c9cacb" stroke="#000" stroke-width="1"/>
<g clip-path="url(#c13)" stroke="#000" stroke-width="0.9" shape-rendering="geometricPrecision">
<line x1="2076.4" y1="2313" x2="1879.1" y2="2510.3"/>
<line x1="2121.8" y1="2313" x2="1924.5" y2="2510.3"/>
<line x1="2212.2" y1="2313" x2="2014.9" y2="2510.3"/>
<line x1="2257.6" y1="2313" x2="2060.3" y2="2510.3"/>
<line x1="2348" y1="2313" x2="2150.7" y2="2510.3"/>
<line x1="2393.4" y1="2313" x2="2196.1" y2="2510.3"/>
<line x1="2483.8" y1="2313" x2="2286.5" y2="2510.3"/>
<line x1="2529.2" y1="2313" x2="2331.9" y2="2510.3"/>
<line x1="2619.6" y1="2313" x2="2422.3" y2="2510.3"/>
<line x1="2665" y1="2313" x2="2467.7" y2="2510.3"/>
<line x1="2755.4" y1="2313" x2="2558.1" y2="2510.3"/>
</g>
<polygon points="598.5,1798.5 606.2,1798.5 618.8,1811.5 631.7,1780.9 646.4,1811.5 662.3,1780.9 677.4,1811.5 688.2,1798.5 697.3,1798.5 697.3,2234.2 680.8,2250.7 615,2250.7 598.5,2234.2" fill="#c1eefb" stroke="#2132b8" stroke-width="1"/>
<g clip-path="url(#c14)" stroke="#2132b8" stroke-width="0.9" shape-rendering="geometricPrecision">
<line x1="598.5" y1="1596.9" x2="697.3" y2="1498.1"/>
<line x1="598.5" y1="1708.3" x2="697.3" y2="1609.5"/>
<line x1="598.5" y1="1819.7" x2="697.3" y2="1720.9"/>
<line x1="598.5" y1="1931.1" x2="697.3" y2="1832.3"/>
<line x1="598.5" y1="2042.5" x2="697.3" y2="1943.7"/>
<line x1="598.5" y1="2153.9" x2="697.3" y2="2055.1"/>
<line x1="598.5" y1="2265.3" x2="697.3" y2="2166.5"/>
<line x1="598.5" y1="2376.7" x2="697.3" y2="2277.9"/>
<line x1="598.5" y1="2488.1" x2="697.3" y2="2389.3"/>
<line x1="584.4" y1="1666.4" x2="653.9" y2="1596.9"/>
<line x1="680.4" y1="1570.4" x2="749.9" y2="1500.9"/>
<line x1="543.6" y1="1818.6" x2="613.1" y2="1749.1"/>
<line x1="639.6" y1="1722.6" x2="709.1" y2="1653.1"/>
<line x1="598.8" y1="1874.8" x2="668.3" y2="1805.3"/>
<line x1="694.8" y1="1778.8" x2="764.3" y2="1709.3"/>
<line x1="558" y1="2027" x2="627.5" y2="1957.5"/>
<line x1="654" y1="1931" x2="723.5" y2="1861.5"/>
<line x1="613.2" y1="2083.2" x2="682.7" y2="2013.7"/>
<line x1="572.4" y1="2235.4" x2="641.9" y2="2165.9"/>
<line x1="668.4" y1="2139.4" x2="737.9" y2="2069.9"/>
<line x1="531.6" y1="2387.6" x2="601.1" y2="2318.1"/>
<line x1="627.6" y1="2291.6" x2="697.1" y2="2222.1"/>
<line x1="586.8" y1="2443.8" x2="656.3" y2="2374.3"/>
<line x1="682.8" y1="2347.8" x2="752.3" y2="2278.3"/>
<line x1="546" y1="2596" x2="615.5" y2="2526.5"/>
<line x1="642" y1="2500" x2="711.5" y2="2430.5"/>
</g>
<rect x="615.7" y="2250.7" width="64.8" height="37.7" fill="#c9cacb" stroke="#777" stroke-width="1"/>
<path d="M570.6,2080 L573,2077.6 L592,2077.6 L594.3,2080 L594.3,2288.4 L700.8,2288.4 L700.8,2080 L703.2,2077.6 L723.2,2077.6 L725.6,2080 L725.6,2313.3 L570.6,2313.3 Z" fill="#636466" stroke="#000" stroke-width="1"/>
<line x1="335.4" y1="2250.7" x2="606" y2="2250.7" stroke="#000" stroke-width="1"/>
<line x1="335.4" y1="2313.3" x2="388.3" y2="2313.3" stroke="#000" stroke-width="1"/>
<line x1="349.6" y1="2196.7" x2="349.6" y2="2367.3" stroke="#000" stroke-width="1"/>
<polygon points="349.6,2250.7 345,2224.7 354.2,2224.7" fill="#000"/>
<polygon points="349.6,2313.3 345,2339.3 354.2,2339.3" fill="#000"/>
<text x="289.7" y="2308.4" font-size="68.4" font-style="italic" stroke="#fff" stroke-width="0.9" textLength="33.3" lengthAdjust="spacingAndGlyphs">5</text>
<text x="380.5" y="1644.1" font-size="47" textLength="139.3" lengthAdjust="spacing">П2756</text>
<text x="380.6" y="1701" font-size="47" textLength="474" lengthAdjust="spacing">П-образный профиль</text>
<polyline points="852.9,1711.8 367.7,1711.8 569.6,2077.5" fill="none" stroke="#000" stroke-width="1"/>
<polygon points="1439.3,1793.8 1447.1,1793.8 1459.9,1806.8 1473,1776.2 1487.9,1806.8 1504,1776.2 1519.3,1806.8 1530.2,1793.8 1539.5,1793.8 1539.5,2228.8 1522,2246.3 1456.8,2246.3 1439.3,2228.8" fill="#c1eefb" stroke="#2132b8" stroke-width="1"/>
<g clip-path="url(#c15)" stroke="#2132b8" stroke-width="0.9" shape-rendering="geometricPrecision">
<line x1="1439.3" y1="1592.2" x2="1539.5" y2="1492"/>
<line x1="1439.3" y1="1703.6" x2="1539.5" y2="1603.4"/>
<line x1="1439.3" y1="1815" x2="1539.5" y2="1714.8"/>
<line x1="1439.3" y1="1926.4" x2="1539.5" y2="1826.2"/>
<line x1="1439.3" y1="2037.8" x2="1539.5" y2="1937.6"/>
<line x1="1439.3" y1="2149.2" x2="1539.5" y2="2049"/>
<line x1="1439.3" y1="2260.6" x2="1539.5" y2="2160.4"/>
<line x1="1439.3" y1="2372" x2="1539.5" y2="2271.8"/>
<line x1="1439.3" y1="2483.4" x2="1539.5" y2="2383.2"/>
<line x1="1425.2" y1="1661.7" x2="1494.7" y2="1592.2"/>
<line x1="1521.2" y1="1565.7" x2="1590.7" y2="1496.2"/>
<line x1="1384.4" y1="1813.9" x2="1453.9" y2="1744.4"/>
<line x1="1480.4" y1="1717.9" x2="1549.9" y2="1648.4"/>
<line x1="1439.6" y1="1870.1" x2="1509.1" y2="1800.6"/>
<line x1="1535.6" y1="1774.1" x2="1605.1" y2="1704.6"/>
<line x1="1398.8" y1="2022.3" x2="1468.3" y2="1952.8"/>
<line x1="1494.8" y1="1926.3" x2="1564.3" y2="1856.8"/>
<line x1="1454" y1="2078.5" x2="1523.5" y2="2009"/>
<line x1="1413.2" y1="2230.7" x2="1482.7" y2="2161.2"/>
<line x1="1509.2" y1="2134.7" x2="1578.7" y2="2065.2"/>
<line x1="1372.4" y1="2382.9" x2="1441.9" y2="2313.4"/>
<line x1="1468.4" y1="2286.9" x2="1537.9" y2="2217.4"/>
<line x1="1427.6" y1="2439.1" x2="1497.1" y2="2369.6"/>
<line x1="1523.6" y1="2343.1" x2="1593.1" y2="2273.6"/>
<line x1="1386.8" y1="2591.3" x2="1456.3" y2="2521.8"/>
<line x1="1482.8" y1="2495.3" x2="1552.3" y2="2425.8"/>
</g>
<rect x="1457.9" y="2246.3" width="65.1" height="24.9" fill="#c9cacb" stroke="none" stroke-width="0"/>
<path d="M1411.7,2066.3 Q1411.7,2062.3 1415.7,2062.3 L1435.8,2062.3 Q1439.8,2062.3 1439.8,2066.3 L1439.8,2079.6 Q1439.8,2083.6 1435.8,2083.6 L1423.2,2083.6 L1423.2,2112.3 L1435.8,2112.3 Q1439.8,2112.3 1439.8,2116.3 L1439.8,2124.3 Q1439.8,2128.3 1435.8,2128.3 L1423.2,2128.3 L1423.2,2271.2 L1482.3,2271.2 L1490.6,2279.5 L1498.9,2271.2 L1558.1,2271.2 L1558.1,2128.3 L1546.4,2128.3 Q1542.4,2128.3 1542.4,2124.3 L1542.4,2116.3 Q1542.4,2112.3 1546.4,2112.3 L1558.1,2112.3 L1558.1,2083.6 L1546.4,2083.6 Q1542.4,2083.6 1542.4,2079.6 L1542.4,2066.3 Q1542.4,2062.3 1546.4,2062.3 L1566.7,2062.3 Q1570.7,2062.3 1570.7,2066.3 L1570.7,2308.8 Q1570.7,2312.8 1566.7,2312.8 L1562.1,2312.8 Q1558.1,2312.8 1558.1,2308.8 L1558.1,2294.3 L1514.7,2294.3 L1514.7,2308.8 Q1514.7,2312.8 1510.7,2312.8 L1470.6,2312.8 Q1466.6,2312.8 1466.6,2308.8 L1466.6,2294.3 L1423.2,2294.3 L1423.2,2308.8 Q1423.2,2312.8 1419.2,2312.8 L1415.7,2312.8 Q1411.7,2312.8 1411.7,2308.8 Z" fill="#636466" stroke="#000" stroke-width="1"/>
<line x1="1178.5" y1="2245.1" x2="1449" y2="2245.1" stroke="#000" stroke-width="1"/>
<line x1="1178.5" y1="2313" x2="1230.8" y2="2313" stroke="#000" stroke-width="1"/>
<line x1="1190.9" y1="2191.1" x2="1190.9" y2="2367" stroke="#000" stroke-width="1"/>
<polygon points="1190.9,2245.1 1186.3,2219.1 1195.5,2219.1" fill="#000"/>
<polygon points="1190.9,2313 1186.3,2339 1195.5,2339" fill="#000"/>
<text x="1134.7" y="2288.6" font-size="68.4" font-style="italic" stroke="#fff" stroke-width="0.9" textLength="31.6" lengthAdjust="spacingAndGlyphs">5</text>
<text x="1192.6" y="1640.6" font-size="47" textLength="182.9" lengthAdjust="spacing">П2756-5</text>
<text x="1192.6" y="1696.7" font-size="47" textLength="475.2" lengthAdjust="spacing">П-образный профиль</text>
<polyline points="1666.2,1707 1181,1707 1411.7,2062.5" fill="none" stroke="#000" stroke-width="1"/>
<polygon points="2283.1,1739 2290.8,1739 2303.6,1752 2316.6,1721.4 2331.4,1752 2347.5,1721.4 2362.7,1752 2373.6,1739 2382.8,1739 2382.8,2174.7 2365.3,2192.2 2300.6,2192.2 2283.1,2174.7" fill="#c1eefb" stroke="#2132b8" stroke-width="1"/>
<g clip-path="url(#c16)" stroke="#2132b8" stroke-width="0.9" shape-rendering="geometricPrecision">
<line x1="2283.1" y1="1537.4" x2="2382.8" y2="1437.7"/>
<line x1="2283.1" y1="1648.8" x2="2382.8" y2="1549.1"/>
<line x1="2283.1" y1="1760.2" x2="2382.8" y2="1660.5"/>
<line x1="2283.1" y1="1871.6" x2="2382.8" y2="1771.9"/>
<line x1="2283.1" y1="1983" x2="2382.8" y2="1883.3"/>
<line x1="2283.1" y1="2094.4" x2="2382.8" y2="1994.7"/>
<line x1="2283.1" y1="2205.8" x2="2382.8" y2="2106.1"/>
<line x1="2283.1" y1="2317.2" x2="2382.8" y2="2217.5"/>
<line x1="2283.1" y1="2428.6" x2="2382.8" y2="2328.9"/>
<line x1="2269" y1="1606.9" x2="2338.5" y2="1537.4"/>
<line x1="2365" y1="1510.9" x2="2434.5" y2="1441.4"/>
<line x1="2228.2" y1="1759.1" x2="2297.7" y2="1689.6"/>
<line x1="2324.2" y1="1663.1" x2="2393.7" y2="1593.6"/>
<line x1="2283.4" y1="1815.3" x2="2352.9" y2="1745.8"/>
<line x1="2379.4" y1="1719.3" x2="2448.9" y2="1649.8"/>
<line x1="2242.6" y1="1967.5" x2="2312.1" y2="1898"/>
<line x1="2338.6" y1="1871.5" x2="2408.1" y2="1802"/>
<line x1="2297.8" y1="2023.7" x2="2367.3" y2="1954.2"/>
<line x1="2257" y1="2175.9" x2="2326.5" y2="2106.4"/>
<line x1="2353" y1="2079.9" x2="2422.5" y2="2010.4"/>
<line x1="2216.2" y1="2328.1" x2="2285.7" y2="2258.6"/>
<line x1="2312.2" y1="2232.1" x2="2381.7" y2="2162.6"/>
<line x1="2271.4" y1="2384.3" x2="2340.9" y2="2314.8"/>
<line x1="2367.4" y1="2288.3" x2="2436.9" y2="2218.8"/>
<line x1="2230.6" y1="2536.5" x2="2300.1" y2="2467"/>
<line x1="2326.6" y1="2440.5" x2="2396.1" y2="2371"/>
</g>
<rect x="2300.1" y="2192.5" width="64.7" height="26.1" fill="#c9cacb" stroke="none" stroke-width="0"/>
<path d="M2252.1,2124.4 L2279.8,2124.4 L2279.8,2138.8 L2264.5,2138.8 L2264.5,2175.6 L2279.8,2175.6 L2279.8,2188.7 L2264.5,2188.7 L2264.5,2237.5 L2307.5,2237.5 L2307.5,2218.6 L2326,2218.6 L2332.5,2225.1 L2339,2218.6 L2357.4,2218.6 L2357.4,2237.5 L2400.3,2237.5 L2400.3,2188.7 L2385.2,2188.7 L2385.2,2175.6 L2400.3,2175.6 L2400.3,2138.8 L2385.2,2138.8 L2385.2,2124.4 L2412.5,2124.4 L2412.5,2313.3 L2400.3,2313.3 L2400.3,2273.5 L2357.4,2273.5 L2357.4,2313.3 L2350.6,2313.3 L2347.6,2306.8 L2339.6,2306.8 L2332.5,2313.3 L2325.4,2306.8 L2317.4,2306.8 L2314.4,2313.3 L2307.5,2313.3 L2307.5,2273.5 L2264.5,2273.5 L2264.5,2313.3 L2252.1,2313.3 Z" fill="#636466" stroke="#000" stroke-width="1"/>
<line x1="2021.1" y1="2190.9" x2="2292.6" y2="2190.9" stroke="#000" stroke-width="1"/>
<line x1="2021.1" y1="2312.9" x2="2072.6" y2="2312.9" stroke="#000" stroke-width="1"/>
<line x1="2033.6" y1="2136.9" x2="2033.6" y2="2366.9" stroke="#000" stroke-width="1"/>
<polygon points="2033.6,2190.9 2029,2164.9 2038.2,2164.9" fill="#000"/>
<polygon points="2033.6,2312.9 2029,2338.9 2038.2,2338.9" fill="#000"/>
<text x="1978.1" y="2273.4" font-size="65.7" font-style="italic" stroke="#fff" stroke-width="0.9" textLength="32.2" lengthAdjust="spacingAndGlyphs">9</text>
<text x="2096.4" y="1642.8" font-size="47" textLength="349.2" lengthAdjust="spacing">П2372 профиль</text>
<text x="2097.4" y="1698.9" font-size="47" textLength="243.6" lengthAdjust="spacing">стекло-пол</text>
<polyline points="2444.9,1706.6 2083.5,1706.6 2252.6,2123.7" fill="none" stroke="#000" stroke-width="1"/>
<rect x="120.4" y="3289.8" width="196.9" height="517.4" fill="#c9cacb" stroke="#000" stroke-width="1"/>
<g clip-path="url(#c17)" stroke="#000" stroke-width="0.9" shape-rendering="geometricPrecision">
<line x1="120.4" y1="3099.2" x2="317.3" y2="3296.1"/>
<line x1="120.4" y1="3144.6" x2="317.3" y2="3341.5"/>
<line x1="120.4" y1="3235" x2="317.3" y2="3431.9"/>
<line x1="120.4" y1="3280.4" x2="317.3" y2="3477.3"/>
<line x1="120.4" y1="3370.8" x2="317.3" y2="3567.7"/>
<line x1="120.4" y1="3416.2" x2="317.3" y2="3613.1"/>
<line x1="120.4" y1="3506.6" x2="317.3" y2="3703.5"/>
<line x1="120.4" y1="3552" x2="317.3" y2="3748.9"/>
<line x1="120.4" y1="3642.4" x2="317.3" y2="3839.3"/>
<line x1="120.4" y1="3687.8" x2="317.3" y2="3884.7"/>
<line x1="120.4" y1="3778.2" x2="317.3" y2="3975.1"/>
</g>
<rect x="1086.3" y="3290.2" width="195.9" height="517.6" fill="#c9cacb" stroke="#000" stroke-width="1"/>
<g clip-path="url(#c18)" stroke="#000" stroke-width="0.9" shape-rendering="geometricPrecision">
<line x1="1086.3" y1="3099.6" x2="1282.2" y2="3295.5"/>
<line x1="1086.3" y1="3145" x2="1282.2" y2="3340.9"/>
<line x1="1086.3" y1="3235.4" x2="1282.2" y2="3431.3"/>
<line x1="1086.3" y1="3280.8" x2="1282.2" y2="3476.7"/>
<line x1="1086.3" y1="3371.2" x2="1282.2" y2="3567.1"/>
<line x1="1086.3" y1="3416.6" x2="1282.2" y2="3612.5"/>
<line x1="1086.3" y1="3507" x2="1282.2" y2="3702.9"/>
<line x1="1086.3" y1="3552.4" x2="1282.2" y2="3748.3"/>
<line x1="1086.3" y1="3642.8" x2="1282.2" y2="3838.7"/>
<line x1="1086.3" y1="3688.2" x2="1282.2" y2="3884.1"/>
<line x1="1086.3" y1="3778.6" x2="1282.2" y2="3974.5"/>
</g>
<rect x="2042.3" y="3290.6" width="196" height="517.4" fill="#c9cacb" stroke="#000" stroke-width="1"/>
<g clip-path="url(#c19)" stroke="#000" stroke-width="0.9" shape-rendering="geometricPrecision">
<line x1="2042.3" y1="3100" x2="2238.3" y2="3296"/>
<line x1="2042.3" y1="3145.4" x2="2238.3" y2="3341.4"/>
<line x1="2042.3" y1="3235.8" x2="2238.3" y2="3431.8"/>
<line x1="2042.3" y1="3281.2" x2="2238.3" y2="3477.2"/>
<line x1="2042.3" y1="3371.6" x2="2238.3" y2="3567.6"/>
<line x1="2042.3" y1="3417" x2="2238.3" y2="3613"/>
<line x1="2042.3" y1="3507.4" x2="2238.3" y2="3703.4"/>
<line x1="2042.3" y1="3552.8" x2="2238.3" y2="3748.8"/>
<line x1="2042.3" y1="3643.2" x2="2238.3" y2="3839.2"/>
<line x1="2042.3" y1="3688.6" x2="2238.3" y2="3884.6"/>
<line x1="2042.3" y1="3779" x2="2238.3" y2="3975"/>
</g>
<polygon points="395.6,3498 829,3498 829,3510.3 816.2,3518.7 845.8,3533.5 816.2,3549.3 845.8,3564.1 816.2,3578.9 829,3586.8 829,3597.6 395.6,3597.6 378.6,3580.6 378.6,3515" fill="#c1eefb" stroke="#2f5fc0" stroke-width="1"/>
<g clip-path="url(#c20)" stroke="#2f5fc0" stroke-width="0.9" shape-rendering="geometricPrecision">
<line x1="254" y1="3498" x2="353.6" y2="3597.6"/>
<line x1="364.8" y1="3498" x2="464.4" y2="3597.6"/>
<line x1="475.6" y1="3498" x2="575.2" y2="3597.6"/>
<line x1="586.4" y1="3498" x2="686" y2="3597.6"/>
<line x1="697.2" y1="3498" x2="796.8" y2="3597.6"/>
<line x1="808" y1="3498" x2="907.6" y2="3597.6"/>
<line x1="918.8" y1="3498" x2="1018.4" y2="3597.6"/>
<line x1="1029.6" y1="3498" x2="1129.2" y2="3597.6"/>
<line x1="241" y1="3429.6" x2="310.5" y2="3499.1"/>
<line x1="337" y1="3525.6" x2="406.5" y2="3595.1"/>
<line x1="393" y1="3470.8" x2="462.5" y2="3540.3"/>
<line x1="489" y1="3566.8" x2="558.5" y2="3636.3"/>
<line x1="545" y1="3512" x2="614.5" y2="3581.5"/>
<line x1="601" y1="3457.2" x2="670.5" y2="3526.7"/>
<line x1="697" y1="3553.2" x2="766.5" y2="3622.7"/>
<line x1="753" y1="3498.4" x2="822.5" y2="3567.9"/>
<line x1="849" y1="3594.4" x2="918.5" y2="3663.9"/>
<line x1="809" y1="3443.6" x2="878.5" y2="3513.1"/>
<line x1="905" y1="3539.6" x2="974.5" y2="3609.1"/>
<line x1="961" y1="3484.8" x2="1030.5" y2="3554.3"/>
<line x1="1057" y1="3580.8" x2="1126.5" y2="3650.3"/>
<line x1="1017" y1="3430" x2="1086.5" y2="3499.5"/>
<line x1="1113" y1="3526" x2="1182.5" y2="3595.5"/>
</g>
<path d="M317.4,3471.3 L552.5,3471.3 L552.5,3495.4 L341,3495.4 L341,3599.9 L552.5,3599.9 L552.5,3625 L317.4,3625 Z" fill="#636466" stroke="#000" stroke-width="1"/>
<line x1="317.3" y1="3157" x2="317.3" y2="3289.6" stroke="#000" stroke-width="1"/>
<line x1="378.8" y1="3157" x2="378.8" y2="3508" stroke="#000" stroke-width="1"/>
<line x1="263.3" y1="3171.3" x2="432.8" y2="3171.3" stroke="#000" stroke-width="1"/>
<polygon points="317.3,3171.3 291.3,3166.7 291.3,3175.9" fill="#000"/>
<polygon points="378.8,3171.3 404.8,3166.7 404.8,3175.9" fill="#000"/>
<text x="330.6" y="3154" font-size="64.3" font-style="italic" stroke="#fff" stroke-width="0.9" textLength="34.6" lengthAdjust="spacingAndGlyphs">5</text>
<text x="538.5" y="3114" font-size="47" textLength="141.7" lengthAdjust="spacing">П2756</text>
<text x="538.6" y="3170.7" font-size="47" textLength="473.8" lengthAdjust="spacing">П-образный профиль</text>
<polyline points="1011.6,3180.5 524.9,3180.5 553.2,3471.3" fill="none" stroke="#000" stroke-width="1"/>
<polygon points="1381.1,3487 1815.8,3487 1815.8,3499.3 1803,3507.6 1832.6,3522.4 1803,3538 1832.6,3552.7 1803,3567.5 1815.8,3575.3 1815.8,3586.1 1381.1,3586.1 1363.6,3568.6 1363.6,3504.5" fill="#c1eefb" stroke="#2f5fc0" stroke-width="1"/>
<g clip-path="url(#c21)" stroke="#2f5fc0" stroke-width="0.9" shape-rendering="geometricPrecision">
<line x1="1239" y1="3487" x2="1338.1" y2="3586.1"/>
<line x1="1349.8" y1="3487" x2="1448.9" y2="3586.1"/>
<line x1="1460.6" y1="3487" x2="1559.7" y2="3586.1"/>
<line x1="1571.4" y1="3487" x2="1670.5" y2="3586.1"/>
<line x1="1682.2" y1="3487" x2="1781.3" y2="3586.1"/>
<line x1="1793" y1="3487" x2="1892.1" y2="3586.1"/>
<line x1="1903.8" y1="3487" x2="2002.9" y2="3586.1"/>
<line x1="2014.6" y1="3487" x2="2113.7" y2="3586.1"/>
<line x1="1226" y1="3418.6" x2="1295.5" y2="3488.1"/>
<line x1="1322" y1="3514.6" x2="1391.5" y2="3584.1"/>
<line x1="1378" y1="3459.8" x2="1447.5" y2="3529.3"/>
<line x1="1474" y1="3555.8" x2="1543.5" y2="3625.3"/>
<line x1="1530" y1="3501" x2="1599.5" y2="3570.5"/>
<line x1="1586" y1="3446.2" x2="1655.5" y2="3515.7"/>
<line x1="1682" y1="3542.2" x2="1751.5" y2="3611.7"/>
<line x1="1738" y1="3487.4" x2="1807.5" y2="3556.9"/>
<line x1="1834" y1="3583.4" x2="1903.5" y2="3652.9"/>
<line x1="1794" y1="3432.6" x2="1863.5" y2="3502.1"/>
<line x1="1890" y1="3528.6" x2="1959.5" y2="3598.1"/>
<line x1="1946" y1="3473.8" x2="2015.5" y2="3543.3"/>
<line x1="2042" y1="3569.8" x2="2111.5" y2="3639.3"/>
<line x1="2002" y1="3419" x2="2071.5" y2="3488.5"/>
<line x1="2098" y1="3515" x2="2167.5" y2="3584.5"/>
</g>
<path d="M1282.6,3431.5 L1654,3431.5 L1654,3480.5 Q1654,3484.5 1650,3484.5 L1639.5,3484.5 Q1635.5,3484.5 1635.5,3480.5 L1635.5,3450.4 L1387.5,3450.4 L1384,3445.4 L1342,3445.4 L1338,3449.5 L1331,3449.5 A10.5,10.5 0 1 0 1321.5,3465.5 Q1324.5,3472 1324.5,3480 L1324.5,3592.5 Q1324.5,3600.5 1321.5,3607 A10.5,10.5 0 1 0 1331,3623 L1338,3623 L1342,3627.2 L1384,3627.2 L1387.5,3622.2 L1635.5,3622.2 L1635.5,3594 Q1635.5,3590 1639.5,3590 L1650,3590 Q1654,3590 1654,3594 L1654,3641.1 L1282.6,3641.1 Z" fill="#636466" stroke="#000" stroke-width="1"/>
<path d="M1282.6,3453.5 L1292,3460 Q1296.3,3463 1296.3,3468 L1296.3,3488 Q1296.3,3492 1292.3,3492 L1282.6,3492 Z" fill="#fff" stroke="#000" stroke-width="0.8"/>
<path d="M1282.6,3504.6 L1292.3,3504.6 Q1296.3,3504.6 1296.3,3508.6 L1296.3,3564.8 Q1296.3,3568.8 1292.3,3568.8 L1282.6,3568.8 Z" fill="#fff" stroke="#000" stroke-width="0.8"/>
<path d="M1282.6,3581.7 L1292.3,3581.7 Q1296.3,3581.7 1296.3,3585.7 L1296.3,3605 Q1296.3,3610 1292,3613 L1282.6,3619.5 Z" fill="#fff" stroke="#000" stroke-width="0.8"/>
<path d="M1628.7,3452.4 L1628.7,3464.3 L1589.8,3487 L1587.8,3487 L1587.8,3464.3 L1549.4,3487 L1547.4,3487 L1547.4,3464.3 L1508.2,3487 L1506.2,3487 L1506.2,3464.3 L1466.5,3487 L1464.5,3487 L1464.5,3464.3 L1426.1,3487 L1424.1,3487 L1424.1,3464.3 L1385.5,3487 L1383.2,3487 L1382.5,3476.5 Q1355,3467 1340,3460 Q1332,3459.5 1334,3468 Q1347,3536.5 1334,3605 Q1332,3614 1340,3613 Q1355,3606 1382.5,3596.6 L1383.2,3586.1 L1385.5,3586.1 L1424.1,3608.8 L1424.1,3586.1 L1426.1,3586.1 L1464.5,3608.8 L1464.5,3586.1 L1466.5,3586.1 L1506.2,3608.8 L1506.2,3586.1 L1508.2,3586.1 L1547.4,3608.8 L1547.4,3586.1 L1549.4,3586.1 L1587.8,3608.8 L1587.8,3586.1 L1589.8,3586.1 L1628.7,3608.8 L1628.7,3621.7 L1334.8,3621.7 Q1326.8,3621.7 1326.8,3613.7 L1326.8,3460.4 Q1326.8,3452.4 1334.8,3452.4 Z" fill="#c9cacb" stroke="#000" stroke-width="0.9" stroke-linejoin="round"/>
<line x1="1281.3" y1="3158.7" x2="1281.3" y2="3281.8" stroke="#000" stroke-width="1"/>
<line x1="1363.9" y1="3158.7" x2="1363.9" y2="3503.6" stroke="#000" stroke-width="1"/>
<line x1="1227.3" y1="3172" x2="1417.9" y2="3172" stroke="#000" stroke-width="1"/>
<polygon points="1281.3,3172 1255.3,3167.4 1255.3,3176.6" fill="#000"/>
<polygon points="1363.9,3172 1389.9,3167.4 1389.9,3176.6" fill="#000"/>
<text x="1302" y="3158.2" font-size="63.8" font-style="italic" stroke="#fff" stroke-width="0.9" textLength="34.1" lengthAdjust="spacingAndGlyphs">8</text>
<text x="1531" y="3233" font-size="47" textLength="368.4" lengthAdjust="spacing">SND1587-2500-5</text>
<polyline points="1897.3,3240.2 1516.4,3240.2 1468.7,3430.4" fill="none" stroke="#000" stroke-width="1"/>
<polygon points="2322.6,3498.2 2755.5,3498.2 2755.5,3510.5 2742.7,3518.9 2772.3,3533.7 2742.7,3549.4 2772.3,3564.2 2742.7,3579 2755.5,3586.9 2755.5,3597.7 2322.6,3597.7 2305.1,3580.2 2305.1,3515.7" fill="#c1eefb" stroke="#2f5fc0" stroke-width="1"/>
<g clip-path="url(#c22)" stroke="#2f5fc0" stroke-width="0.9" shape-rendering="geometricPrecision">
<line x1="2180.5" y1="3498.2" x2="2280" y2="3597.7"/>
<line x1="2291.3" y1="3498.2" x2="2390.8" y2="3597.7"/>
<line x1="2402.1" y1="3498.2" x2="2501.6" y2="3597.7"/>
<line x1="2512.9" y1="3498.2" x2="2612.4" y2="3597.7"/>
<line x1="2623.7" y1="3498.2" x2="2723.2" y2="3597.7"/>
<line x1="2734.5" y1="3498.2" x2="2834" y2="3597.7"/>
<line x1="2845.3" y1="3498.2" x2="2944.8" y2="3597.7"/>
<line x1="2956.1" y1="3498.2" x2="3055.6" y2="3597.7"/>
<line x1="2167.5" y1="3429.8" x2="2237" y2="3499.3"/>
<line x1="2263.5" y1="3525.8" x2="2333" y2="3595.3"/>
<line x1="2319.5" y1="3471" x2="2389" y2="3540.5"/>
<line x1="2415.5" y1="3567" x2="2485" y2="3636.5"/>
<line x1="2471.5" y1="3512.2" x2="2541" y2="3581.7"/>
<line x1="2527.5" y1="3457.4" x2="2597" y2="3526.9"/>
<line x1="2623.5" y1="3553.4" x2="2693" y2="3622.9"/>
<line x1="2679.5" y1="3498.6" x2="2749" y2="3568.1"/>
<line x1="2775.5" y1="3594.6" x2="2845" y2="3664.1"/>
<line x1="2735.5" y1="3443.8" x2="2805" y2="3513.3"/>
<line x1="2831.5" y1="3539.8" x2="2901" y2="3609.3"/>
<line x1="2887.5" y1="3485" x2="2957" y2="3554.5"/>
<line x1="2983.5" y1="3581" x2="3053" y2="3650.5"/>
<line x1="2943.5" y1="3430.2" x2="3013" y2="3499.7"/>
<line x1="3039.5" y1="3526.2" x2="3109" y2="3595.7"/>
</g>
<g transform="matrix(0,1,-1,0,4551.1,2058.5)">
<path d="M1411.7,2066.3 Q1411.7,2062.3 1415.7,2062.3 L1435.8,2062.3 Q1439.8,2062.3 1439.8,2066.3 L1439.8,2079.6 Q1439.8,2083.6 1435.8,2083.6 L1423.2,2083.6 L1423.2,2112.3 L1435.8,2112.3 Q1439.8,2112.3 1439.8,2116.3 L1439.8,2124.3 Q1439.8,2128.3 1435.8,2128.3 L1423.2,2128.3 L1423.2,2271.2 L1482.3,2271.2 L1490.6,2279.5 L1498.9,2271.2 L1558.1,2271.2 L1558.1,2128.3 L1546.4,2128.3 Q1542.4,2128.3 1542.4,2124.3 L1542.4,2116.3 Q1542.4,2112.3 1546.4,2112.3 L1558.1,2112.3 L1558.1,2083.6 L1546.4,2083.6 Q1542.4,2083.6 1542.4,2079.6 L1542.4,2066.3 Q1542.4,2062.3 1546.4,2062.3 L1566.7,2062.3 Q1570.7,2062.3 1570.7,2066.3 L1570.7,2308.8 Q1570.7,2312.8 1566.7,2312.8 L1562.1,2312.8 Q1558.1,2312.8 1558.1,2308.8 L1558.1,2294.3 L1514.7,2294.3 L1514.7,2308.8 Q1514.7,2312.8 1510.7,2312.8 L1470.6,2312.8 Q1466.6,2312.8 1466.6,2308.8 L1466.6,2294.3 L1423.2,2294.3 L1423.2,2308.8 Q1423.2,2312.8 1419.2,2312.8 L1415.7,2312.8 Q1411.7,2312.8 1411.7,2308.8 Z" fill="#636466" stroke="#000" stroke-width="1"/>
</g>
<line x1="2238.3" y1="3159" x2="2238.3" y2="3281.4" stroke="#000" stroke-width="1"/>
<line x1="2305.1" y1="3159" x2="2305.1" y2="3508.4" stroke="#000" stroke-width="1"/>
<line x1="2184.3" y1="3170.7" x2="2359.1" y2="3170.7" stroke="#000" stroke-width="1"/>
<polygon points="2238.3,3170.7 2212.3,3166.1 2212.3,3175.3" fill="#000"/>
<polygon points="2305.1,3170.7 2331.1,3166.1 2331.1,3175.3" fill="#000"/>
<text x="2255.5" y="3153.4" font-size="68" font-style="italic" stroke="#fff" stroke-width="0.9" textLength="36.3" lengthAdjust="spacingAndGlyphs">5</text>
<text x="2523" y="3024.8" font-size="47" textLength="183.1" lengthAdjust="spacing">П2756-5</text>
<text x="2232.2" y="3081.4" font-size="47" textLength="473.8" lengthAdjust="spacing">П-образный профиль</text>
<polyline points="2237.2,3091.1 2721.9,3091.1 2477,3469.2" fill="none" stroke="#000" stroke-width="1"/>
<rect x="0.5" y="1.5" width="2827" height="3997" fill="none" stroke="#000" stroke-width="1"/>
<line x1="0" y1="1340.5" x2="2828" y2="1340.5" stroke="#000" stroke-width="1"/>
<line x1="0" y1="2660.5" x2="2828" y2="2660.5" stroke="#000" stroke-width="1"/>
<g font-family="'Liberation Serif', 'Times New Roman', serif" font-weight="bold" font-size="19" fill="#000" fill-opacity="0.1">
<text x="1639.3" y="3134.1" textLength="180" lengthAdjust="spacing">https://tcmo-pro.ru</text>
<text x="1911.7" y="3134.1" textLength="180" lengthAdjust="spacing">https://tcmo-pro.ru</text>
<text x="2176.5" y="3134.1" textLength="180" lengthAdjust="spacing">https://tcmo-pro.ru</text>
<text x="2430.7" y="3134.1" textLength="180" lengthAdjust="spacing">https://tcmo-pro.ru</text>
<text x="2641.9" y="3134.1" textLength="180" lengthAdjust="spacing">https://tcmo-pro.ru</text>
<text x="1764.9" y="3170.4" textLength="180" lengthAdjust="spacing">https://tcmo-pro.ru</text>
<text x="2067.6" y="3170.4" textLength="180" lengthAdjust="spacing">https://tcmo-pro.ru</text>
<text x="2326.3" y="3170.4" textLength="180" lengthAdjust="spacing">https://tcmo-pro.ru</text>
<text x="2604.8" y="3170.4" textLength="180" lengthAdjust="spacing">https://tcmo-pro.ru</text>
<text x="1639.3" y="3206.1" textLength="180" lengthAdjust="spacing">https://tcmo-pro.ru</text>
<text x="1911.7" y="3206.1" textLength="180" lengthAdjust="spacing">https://tcmo-pro.ru</text>
<text x="2176.5" y="3206.1" textLength="180" lengthAdjust="spacing">https://tcmo-pro.ru</text>
<text x="2430.7" y="3206.1" textLength="180" lengthAdjust="spacing">https://tcmo-pro.ru</text>
<text x="2641.9" y="3206.1" textLength="180" lengthAdjust="spacing">https://tcmo-pro.ru</text>
<text x="1764.9" y="3242.4" textLength="180" lengthAdjust="spacing">https://tcmo-pro.ru</text>
<text x="2067.6" y="3242.4" textLength="180" lengthAdjust="spacing">https://tcmo-pro.ru</text>
<text x="2326.3" y="3242.4" textLength="180" lengthAdjust="spacing">https://tcmo-pro.ru</text>
<text x="2604.8" y="3242.4" textLength="180" lengthAdjust="spacing">https://tcmo-pro.ru</text>
<text x="1639.3" y="3278.1" textLength="180" lengthAdjust="spacing">https://tcmo-pro.ru</text>
<text x="1911.7" y="3278.1" textLength="180" lengthAdjust="spacing">https://tcmo-pro.ru</text>
<text x="2176.5" y="3278.1" textLength="180" lengthAdjust="spacing">https://tcmo-pro.ru</text>
<text x="2430.7" y="3278.1" textLength="180" lengthAdjust="spacing">https://tcmo-pro.ru</text>
<text x="2641.9" y="3278.1" textLength="180" lengthAdjust="spacing">https://tcmo-pro.ru</text>
<text x="1764.9" y="3314.4" textLength="180" lengthAdjust="spacing">https://tcmo-pro.ru</text>
<text x="2067.6" y="3314.4" textLength="180" lengthAdjust="spacing">https://tcmo-pro.ru</text>
<text x="2326.3" y="3314.4" textLength="180" lengthAdjust="spacing">https://tcmo-pro.ru</text>
<text x="2604.8" y="3314.4" textLength="180" lengthAdjust="spacing">https://tcmo-pro.ru</text>
<text x="1639.3" y="3350.1" textLength="180" lengthAdjust="spacing">https://tcmo-pro.ru</text>
<text x="1911.7" y="3350.1" textLength="180" lengthAdjust="spacing">https://tcmo-pro.ru</text>
<text x="2176.5" y="3350.1" textLength="180" lengthAdjust="spacing">https://tcmo-pro.ru</text>
<text x="2430.7" y="3350.1" textLength="180" lengthAdjust="spacing">https://tcmo-pro.ru</text>
<text x="2641.9" y="3350.1" textLength="180" lengthAdjust="spacing">https://tcmo-pro.ru</text>
<text x="1764.9" y="3386.4" textLength="180" lengthAdjust="spacing">https://tcmo-pro.ru</text>
<text x="2067.6" y="3386.4" textLength="180" lengthAdjust="spacing">https://tcmo-pro.ru</text>
<text x="2326.3" y="3386.4" textLength="180" lengthAdjust="spacing">https://tcmo-pro.ru</text>
<text x="2604.8" y="3386.4" textLength="180" lengthAdjust="spacing">https://tcmo-pro.ru</text>
<text x="1639.3" y="3422.1" textLength="180" lengthAdjust="spacing">https://tcmo-pro.ru</text>
<text x="1911.7" y="3422.1" textLength="180" lengthAdjust="spacing">https://tcmo-pro.ru</text>
<text x="2176.5" y="3422.1" textLength="180" lengthAdjust="spacing">https://tcmo-pro.ru</text>
<text x="2430.7" y="3422.1" textLength="180" lengthAdjust="spacing">https://tcmo-pro.ru</text>
<text x="2641.9" y="3422.1" textLength="180" lengthAdjust="spacing">https://tcmo-pro.ru</text>
<text x="1764.9" y="3458.4" textLength="180" lengthAdjust="spacing">https://tcmo-pro.ru</text>
<text x="2067.6" y="3458.4" textLength="180" lengthAdjust="spacing">https://tcmo-pro.ru</text>
<text x="2326.3" y="3458.4" textLength="180" lengthAdjust="spacing">https://tcmo-pro.ru</text>
<text x="2604.8" y="3458.4" textLength="180" lengthAdjust="spacing">https://tcmo-pro.ru</text>
<text x="1639.3" y="3494.1" textLength="180" lengthAdjust="spacing">https://tcmo-pro.ru</text>
<text x="1911.7" y="3494.1" textLength="180" lengthAdjust="spacing">https://tcmo-pro.ru</text>
<text x="2176.5" y="3494.1" textLength="180" lengthAdjust="spacing">https://tcmo-pro.ru</text>
<text x="2430.7" y="3494.1" textLength="180" lengthAdjust="spacing">https://tcmo-pro.ru</text>
<text x="2641.9" y="3494.1" textLength="180" lengthAdjust="spacing">https://tcmo-pro.ru</text>
<text x="1764.9" y="3530.4" textLength="180" lengthAdjust="spacing">https://tcmo-pro.ru</text>
<text x="2067.6" y="3530.4" textLength="180" lengthAdjust="spacing">https://tcmo-pro.ru</text>
<text x="2326.3" y="3530.4" textLength="180" lengthAdjust="spacing">https://tcmo-pro.ru</text>
<text x="2604.8" y="3530.4" textLength="180" lengthAdjust="spacing">https://tcmo-pro.ru</text>
<text x="1639.3" y="3566.1" textLength="180" lengthAdjust="spacing">https://tcmo-pro.ru</text>
<text x="1911.7" y="3566.1" textLength="180" lengthAdjust="spacing">https://tcmo-pro.ru</text>
<text x="2176.5" y="3566.1" textLength="180" lengthAdjust="spacing">https://tcmo-pro.ru</text>
<text x="2430.7" y="3566.1" textLength="180" lengthAdjust="spacing">https://tcmo-pro.ru</text>
<text x="2641.9" y="3566.1" textLength="180" lengthAdjust="spacing">https://tcmo-pro.ru</text>
<text x="1764.9" y="3602.4" textLength="180" lengthAdjust="spacing">https://tcmo-pro.ru</text>
<text x="2067.6" y="3602.4" textLength="180" lengthAdjust="spacing">https://tcmo-pro.ru</text>
<text x="2326.3" y="3602.4" textLength="180" lengthAdjust="spacing">https://tcmo-pro.ru</text>
<text x="2604.8" y="3602.4" textLength="180" lengthAdjust="spacing">https://tcmo-pro.ru</text>
<text x="1639.3" y="3638.1" textLength="180" lengthAdjust="spacing">https://tcmo-pro.ru</text>
<text x="1911.7" y="3638.1" textLength="180" lengthAdjust="spacing">https://tcmo-pro.ru</text>
<text x="2176.5" y="3638.1" textLength="180" lengthAdjust="spacing">https://tcmo-pro.ru</text>
<text x="2430.7" y="3638.1" textLength="180" lengthAdjust="spacing">https://tcmo-pro.ru</text>
<text x="2641.9" y="3638.1" textLength="180" lengthAdjust="spacing">https://tcmo-pro.ru</text>
<text x="1764.9" y="3674.4" textLength="180" lengthAdjust="spacing">https://tcmo-pro.ru</text>
<text x="2067.6" y="3674.4" textLength="180" lengthAdjust="spacing">https://tcmo-pro.ru</text>
<text x="2326.3" y="3674.4" textLength="180" lengthAdjust="spacing">https://tcmo-pro.ru</text>
<text x="2604.8" y="3674.4" textLength="180" lengthAdjust="spacing">https://tcmo-pro.ru</text>
<text x="1639.3" y="3710.1" textLength="180" lengthAdjust="spacing">https://tcmo-pro.ru</text>
<text x="1911.7" y="3710.1" textLength="180" lengthAdjust="spacing">https://tcmo-pro.ru</text>
<text x="2176.5" y="3710.1" textLength="180" lengthAdjust="spacing">https://tcmo-pro.ru</text>
<text x="2430.7" y="3710.1" textLength="180" lengthAdjust="spacing">https://tcmo-pro.ru</text>
<text x="2641.9" y="3710.1" textLength="180" lengthAdjust="spacing">https://tcmo-pro.ru</text>
<text x="1764.9" y="3746.4" textLength="180" lengthAdjust="spacing">https://tcmo-pro.ru</text>
<text x="2067.6" y="3746.4" textLength="180" lengthAdjust="spacing">https://tcmo-pro.ru</text>
<text x="2326.3" y="3746.4" textLength="180" lengthAdjust="spacing">https://tcmo-pro.ru</text>
<text x="2604.8" y="3746.4" textLength="180" lengthAdjust="spacing">https://tcmo-pro.ru</text>
<text x="1639.3" y="3782.1" textLength="180" lengthAdjust="spacing">https://tcmo-pro.ru</text>
<text x="1911.7" y="3782.1" textLength="180" lengthAdjust="spacing">https://tcmo-pro.ru</text>
<text x="2176.5" y="3782.1" textLength="180" lengthAdjust="spacing">https://tcmo-pro.ru</text>
<text x="2430.7" y="3782.1" textLength="180" lengthAdjust="spacing">https://tcmo-pro.ru</text>
<text x="2641.9" y="3782.1" textLength="180" lengthAdjust="spacing">https://tcmo-pro.ru</text>
<text x="1764.9" y="3818.4" textLength="180" lengthAdjust="spacing">https://tcmo-pro.ru</text>
<text x="2067.6" y="3818.4" textLength="180" lengthAdjust="spacing">https://tcmo-pro.ru</text>
<text x="2326.3" y="3818.4" textLength="180" lengthAdjust="spacing">https://tcmo-pro.ru</text>
<text x="2604.8" y="3818.4" textLength="180" lengthAdjust="spacing">https://tcmo-pro.ru</text>
<text x="1639.3" y="3854.1" textLength="180" lengthAdjust="spacing">https://tcmo-pro.ru</text>
<text x="1911.7" y="3854.1" textLength="180" lengthAdjust="spacing">https://tcmo-pro.ru</text>
<text x="2176.5" y="3854.1" textLength="180" lengthAdjust="spacing">https://tcmo-pro.ru</text>
<text x="2430.7" y="3854.1" textLength="180" lengthAdjust="spacing">https://tcmo-pro.ru</text>
<text x="2641.9" y="3854.1" textLength="180" lengthAdjust="spacing">https://tcmo-pro.ru</text>
<text x="1764.9" y="3890.4" textLength="180" lengthAdjust="spacing">https://tcmo-pro.ru</text>
<text x="2067.6" y="3890.4" textLength="180" lengthAdjust="spacing">https://tcmo-pro.ru</text>
<text x="2326.3" y="3890.4" textLength="180" lengthAdjust="spacing">https://tcmo-pro.ru</text>
<text x="2604.8" y="3890.4" textLength="180" lengthAdjust="spacing">https://tcmo-pro.ru</text>
<text x="1639.3" y="3926.1" textLength="180" lengthAdjust="spacing">https://tcmo-pro.ru</text>
<text x="1911.7" y="3926.1" textLength="180" lengthAdjust="spacing">https://tcmo-pro.ru</text>
<text x="2176.5" y="3926.1" textLength="180" lengthAdjust="spacing">https://tcmo-pro.ru</text>
<text x="2430.7" y="3926.1" textLength="180" lengthAdjust="spacing">https://tcmo-pro.ru</text>
<text x="2641.9" y="3926.1" textLength="180" lengthAdjust="spacing">https://tcmo-pro.ru</text>
<text x="1764.9" y="3962.4" textLength="180" lengthAdjust="spacing">https://tcmo-pro.ru</text>
<text x="2067.6" y="3962.4" textLength="180" lengthAdjust="spacing">https://tcmo-pro.ru</text>
<text x="2326.3" y="3962.4" textLength="180" lengthAdjust="spacing">https://tcmo-pro.ru</text>
<text x="2604.8" y="3962.4" textLength="180" lengthAdjust="spacing">https://tcmo-pro.ru</text>
</g>
<g font-weight="bold" font-size="53" fill="#000" fill-opacity="0.11">
<text x="12" y="58.7" textLength="490.3" lengthAdjust="spacing">https://tcmo-pro.ru</text>
<text x="674" y="58.7" textLength="490.3" lengthAdjust="spacing">https://tcmo-pro.ru</text>
<text x="1336" y="58.7" textLength="490.3" lengthAdjust="spacing">https://tcmo-pro.ru</text>
<text x="1998" y="58.7" textLength="490.3" lengthAdjust="spacing">https://tcmo-pro.ru</text>
<text x="2660" y="58.7" textLength="490.3" lengthAdjust="spacing">https://tcmo-pro.ru</text>
<text x="-180.7" y="193.2" textLength="490.3" lengthAdjust="spacing">https://tcmo-pro.ru</text>
<text x="481.3" y="193.2" textLength="490.3" lengthAdjust="spacing">https://tcmo-pro.ru</text>
<text x="1143.3" y="193.2" textLength="490.3" lengthAdjust="spacing">https://tcmo-pro.ru</text>
<text x="1805.3" y="193.2" textLength="490.3" lengthAdjust="spacing">https://tcmo-pro.ru</text>
<text x="2467.3" y="193.2" textLength="490.3" lengthAdjust="spacing">https://tcmo-pro.ru</text>
<text x="12" y="327.7" textLength="490.3" lengthAdjust="spacing">https://tcmo-pro.ru</text>
<text x="674" y="327.7" textLength="490.3" lengthAdjust="spacing">https://tcmo-pro.ru</text>
<text x="1336" y="327.7" textLength="490.3" lengthAdjust="spacing">https://tcmo-pro.ru</text>
<text x="1998" y="327.7" textLength="490.3" lengthAdjust="spacing">https://tcmo-pro.ru</text>
<text x="2660" y="327.7" textLength="490.3" lengthAdjust="spacing">https://tcmo-pro.ru</text>
<text x="-180.7" y="462.2" textLength="490.3" lengthAdjust="spacing">https://tcmo-pro.ru</text>
<text x="481.3" y="462.2" textLength="490.3" lengthAdjust="spacing">https://tcmo-pro.ru</text>
<text x="1143.3" y="462.2" textLength="490.3" lengthAdjust="spacing">https://tcmo-pro.ru</text>
<text x="1805.3" y="462.2" textLength="490.3" lengthAdjust="spacing">https://tcmo-pro.ru</text>
<text x="2467.3" y="462.2" textLength="490.3" lengthAdjust="spacing">https://tcmo-pro.ru</text>
<text x="12" y="596.7" textLength="490.3" lengthAdjust="spacing">https://tcmo-pro.ru</text>
<text x="674" y="596.7" textLength="490.3" lengthAdjust="spacing">https://tcmo-pro.ru</text>
<text x="1336" y="596.7" textLength="490.3" lengthAdjust="spacing">https://tcmo-pro.ru</text>
<text x="1998" y="596.7" textLength="490.3" lengthAdjust="spacing">https://tcmo-pro.ru</text>
<text x="2660" y="596.7" textLength="490.3" lengthAdjust="spacing">https://tcmo-pro.ru</text>
<text x="-180.7" y="731.2" textLength="490.3" lengthAdjust="spacing">https://tcmo-pro.ru</text>
<text x="481.3" y="731.2" textLength="490.3" lengthAdjust="spacing">https://tcmo-pro.ru</text>
<text x="1143.3" y="731.2" textLength="490.3" lengthAdjust="spacing">https://tcmo-pro.ru</text>
<text x="1805.3" y="731.2" textLength="490.3" lengthAdjust="spacing">https://tcmo-pro.ru</text>
<text x="2467.3" y="731.2" textLength="490.3" lengthAdjust="spacing">https://tcmo-pro.ru</text>
<text x="12" y="865.7" textLength="490.3" lengthAdjust="spacing">https://tcmo-pro.ru</text>
<text x="674" y="865.7" textLength="490.3" lengthAdjust="spacing">https://tcmo-pro.ru</text>
<text x="1336" y="865.7" textLength="490.3" lengthAdjust="spacing">https://tcmo-pro.ru</text>
<text x="1998" y="865.7" textLength="490.3" lengthAdjust="spacing">https://tcmo-pro.ru</text>
<text x="2660" y="865.7" textLength="490.3" lengthAdjust="spacing">https://tcmo-pro.ru</text>
<text x="-180.7" y="1000.2" textLength="490.3" lengthAdjust="spacing">https://tcmo-pro.ru</text>
<text x="481.3" y="1000.2" textLength="490.3" lengthAdjust="spacing">https://tcmo-pro.ru</text>
<text x="1143.3" y="1000.2" textLength="490.3" lengthAdjust="spacing">https://tcmo-pro.ru</text>
<text x="1805.3" y="1000.2" textLength="490.3" lengthAdjust="spacing">https://tcmo-pro.ru</text>
<text x="2467.3" y="1000.2" textLength="490.3" lengthAdjust="spacing">https://tcmo-pro.ru</text>
<text x="12" y="1134.7" textLength="490.3" lengthAdjust="spacing">https://tcmo-pro.ru</text>
<text x="674" y="1134.7" textLength="490.3" lengthAdjust="spacing">https://tcmo-pro.ru</text>
<text x="1336" y="1134.7" textLength="490.3" lengthAdjust="spacing">https://tcmo-pro.ru</text>
<text x="1998" y="1134.7" textLength="490.3" lengthAdjust="spacing">https://tcmo-pro.ru</text>
<text x="2660" y="1134.7" textLength="490.3" lengthAdjust="spacing">https://tcmo-pro.ru</text>
<text x="-180.7" y="1269.2" textLength="490.3" lengthAdjust="spacing">https://tcmo-pro.ru</text>
<text x="481.3" y="1269.2" textLength="490.3" lengthAdjust="spacing">https://tcmo-pro.ru</text>
<text x="1143.3" y="1269.2" textLength="490.3" lengthAdjust="spacing">https://tcmo-pro.ru</text>
<text x="1805.3" y="1269.2" textLength="490.3" lengthAdjust="spacing">https://tcmo-pro.ru</text>
<text x="2467.3" y="1269.2" textLength="490.3" lengthAdjust="spacing">https://tcmo-pro.ru</text>
<text x="12" y="1403.7" textLength="490.3" lengthAdjust="spacing">https://tcmo-pro.ru</text>
<text x="674" y="1403.7" textLength="490.3" lengthAdjust="spacing">https://tcmo-pro.ru</text>
<text x="1336" y="1403.7" textLength="490.3" lengthAdjust="spacing">https://tcmo-pro.ru</text>
<text x="1998" y="1403.7" textLength="490.3" lengthAdjust="spacing">https://tcmo-pro.ru</text>
<text x="2660" y="1403.7" textLength="490.3" lengthAdjust="spacing">https://tcmo-pro.ru</text>
<text x="-180.7" y="1538.2" textLength="490.3" lengthAdjust="spacing">https://tcmo-pro.ru</text>
<text x="481.3" y="1538.2" textLength="490.3" lengthAdjust="spacing">https://tcmo-pro.ru</text>
<text x="1143.3" y="1538.2" textLength="490.3" lengthAdjust="spacing">https://tcmo-pro.ru</text>
<text x="1805.3" y="1538.2" textLength="490.3" lengthAdjust="spacing">https://tcmo-pro.ru</text>
<text x="2467.3" y="1538.2" textLength="490.3" lengthAdjust="spacing">https://tcmo-pro.ru</text>
<text x="12" y="1672.7" textLength="490.3" lengthAdjust="spacing">https://tcmo-pro.ru</text>
<text x="674" y="1672.7" textLength="490.3" lengthAdjust="spacing">https://tcmo-pro.ru</text>
<text x="1336" y="1672.7" textLength="490.3" lengthAdjust="spacing">https://tcmo-pro.ru</text>
<text x="1998" y="1672.7" textLength="490.3" lengthAdjust="spacing">https://tcmo-pro.ru</text>
<text x="2660" y="1672.7" textLength="490.3" lengthAdjust="spacing">https://tcmo-pro.ru</text>
<text x="-180.7" y="1807.2" textLength="490.3" lengthAdjust="spacing">https://tcmo-pro.ru</text>
<text x="481.3" y="1807.2" textLength="490.3" lengthAdjust="spacing">https://tcmo-pro.ru</text>
<text x="1143.3" y="1807.2" textLength="490.3" lengthAdjust="spacing">https://tcmo-pro.ru</text>
<text x="1805.3" y="1807.2" textLength="490.3" lengthAdjust="spacing">https://tcmo-pro.ru</text>
<text x="2467.3" y="1807.2" textLength="490.3" lengthAdjust="spacing">https://tcmo-pro.ru</text>
<text x="12" y="1941.7" textLength="490.3" lengthAdjust="spacing">https://tcmo-pro.ru</text>
<text x="674" y="1941.7" textLength="490.3" lengthAdjust="spacing">https://tcmo-pro.ru</text>
<text x="1336" y="1941.7" textLength="490.3" lengthAdjust="spacing">https://tcmo-pro.ru</text>
<text x="1998" y="1941.7" textLength="490.3" lengthAdjust="spacing">https://tcmo-pro.ru</text>
<text x="2660" y="1941.7" textLength="490.3" lengthAdjust="spacing">https://tcmo-pro.ru</text>
<text x="-180.7" y="2076.2" textLength="490.3" lengthAdjust="spacing">https://tcmo-pro.ru</text>
<text x="481.3" y="2076.2" textLength="490.3" lengthAdjust="spacing">https://tcmo-pro.ru</text>
<text x="1143.3" y="2076.2" textLength="490.3" lengthAdjust="spacing">https://tcmo-pro.ru</text>
<text x="1805.3" y="2076.2" textLength="490.3" lengthAdjust="spacing">https://tcmo-pro.ru</text>
<text x="2467.3" y="2076.2" textLength="490.3" lengthAdjust="spacing">https://tcmo-pro.ru</text>
<text x="12" y="2210.7" textLength="490.3" lengthAdjust="spacing">https://tcmo-pro.ru</text>
<text x="674" y="2210.7" textLength="490.3" lengthAdjust="spacing">https://tcmo-pro.ru</text>
<text x="1336" y="2210.7" textLength="490.3" lengthAdjust="spacing">https://tcmo-pro.ru</text>
<text x="1998" y="2210.7" textLength="490.3" lengthAdjust="spacing">https://tcmo-pro.ru</text>
<text x="2660" y="2210.7" textLength="490.3" lengthAdjust="spacing">https://tcmo-pro.ru</text>
<text x="-180.7" y="2345.2" textLength="490.3" lengthAdjust="spacing">https://tcmo-pro.ru</text>
<text x="481.3" y="2345.2" textLength="490.3" lengthAdjust="spacing">https://tcmo-pro.ru</text>
<text x="1143.3" y="2345.2" textLength="490.3" lengthAdjust="spacing">https://tcmo-pro.ru</text>
<text x="1805.3" y="2345.2" textLength="490.3" lengthAdjust="spacing">https://tcmo-pro.ru</text>
<text x="2467.3" y="2345.2" textLength="490.3" lengthAdjust="spacing">https://tcmo-pro.ru</text>
<text x="12" y="2479.7" textLength="490.3" lengthAdjust="spacing">https://tcmo-pro.ru</text>
<text x="674" y="2479.7" textLength="490.3" lengthAdjust="spacing">https://tcmo-pro.ru</text>
<text x="1336" y="2479.7" textLength="490.3" lengthAdjust="spacing">https://tcmo-pro.ru</text>
<text x="1998" y="2479.7" textLength="490.3" lengthAdjust="spacing">https://tcmo-pro.ru</text>
<text x="2660" y="2479.7" textLength="490.3" lengthAdjust="spacing">https://tcmo-pro.ru</text>
<text x="-180.7" y="2614.2" textLength="490.3" lengthAdjust="spacing">https://tcmo-pro.ru</text>
<text x="481.3" y="2614.2" textLength="490.3" lengthAdjust="spacing">https://tcmo-pro.ru</text>
<text x="1143.3" y="2614.2" textLength="490.3" lengthAdjust="spacing">https://tcmo-pro.ru</text>
<text x="1805.3" y="2614.2" textLength="490.3" lengthAdjust="spacing">https://tcmo-pro.ru</text>
<text x="2467.3" y="2614.2" textLength="490.3" lengthAdjust="spacing">https://tcmo-pro.ru</text>
<text x="12" y="2748.7" textLength="490.3" lengthAdjust="spacing">https://tcmo-pro.ru</text>
<text x="674" y="2748.7" textLength="490.3" lengthAdjust="spacing">https://tcmo-pro.ru</text>
<text x="1336" y="2748.7" textLength="490.3" lengthAdjust="spacing">https://tcmo-pro.ru</text>
<text x="1998" y="2748.7" textLength="490.3" lengthAdjust="spacing">https://tcmo-pro.ru</text>
<text x="2660" y="2748.7" textLength="490.3" lengthAdjust="spacing">https://tcmo-pro.ru</text>
<text x="-180.7" y="2883.2" textLength="490.3" lengthAdjust="spacing">https://tcmo-pro.ru</text>
<text x="481.3" y="2883.2" textLength="490.3" lengthAdjust="spacing">https://tcmo-pro.ru</text>
<text x="1143.3" y="2883.2" textLength="490.3" lengthAdjust="spacing">https://tcmo-pro.ru</text>
<text x="1805.3" y="2883.2" textLength="490.3" lengthAdjust="spacing">https://tcmo-pro.ru</text>
<text x="2467.3" y="2883.2" textLength="490.3" lengthAdjust="spacing">https://tcmo-pro.ru</text>
<text x="12" y="3017.7" textLength="490.3" lengthAdjust="spacing">https://tcmo-pro.ru</text>
<text x="674" y="3017.7" textLength="490.3" lengthAdjust="spacing">https://tcmo-pro.ru</text>
<text x="1336" y="3017.7" textLength="490.3" lengthAdjust="spacing">https://tcmo-pro.ru</text>
<text x="1998" y="3017.7" textLength="490.3" lengthAdjust="spacing">https://tcmo-pro.ru</text>
<text x="2660" y="3017.7" textLength="490.3" lengthAdjust="spacing">https://tcmo-pro.ru</text>
<text x="-180.7" y="3152.2" textLength="490.3" lengthAdjust="spacing">https://tcmo-pro.ru</text>
<text x="481.3" y="3152.2" textLength="490.3" lengthAdjust="spacing">https://tcmo-pro.ru</text>
<text x="1143.3" y="3152.2" textLength="490.3" lengthAdjust="spacing">https://tcmo-pro.ru</text>
<text x="1805.3" y="3152.2" textLength="490.3" lengthAdjust="spacing">https://tcmo-pro.ru</text>
<text x="2467.3" y="3152.2" textLength="490.3" lengthAdjust="spacing">https://tcmo-pro.ru</text>
<text x="12" y="3286.7" textLength="490.3" lengthAdjust="spacing">https://tcmo-pro.ru</text>
<text x="674" y="3286.7" textLength="490.3" lengthAdjust="spacing">https://tcmo-pro.ru</text>
<text x="1336" y="3286.7" textLength="490.3" lengthAdjust="spacing">https://tcmo-pro.ru</text>
<text x="1998" y="3286.7" textLength="490.3" lengthAdjust="spacing">https://tcmo-pro.ru</text>
<text x="2660" y="3286.7" textLength="490.3" lengthAdjust="spacing">https://tcmo-pro.ru</text>
<text x="-180.7" y="3421.2" textLength="490.3" lengthAdjust="spacing">https://tcmo-pro.ru</text>
<text x="481.3" y="3421.2" textLength="490.3" lengthAdjust="spacing">https://tcmo-pro.ru</text>
<text x="1143.3" y="3421.2" textLength="490.3" lengthAdjust="spacing">https://tcmo-pro.ru</text>
<text x="1805.3" y="3421.2" textLength="490.3" lengthAdjust="spacing">https://tcmo-pro.ru</text>
<text x="2467.3" y="3421.2" textLength="490.3" lengthAdjust="spacing">https://tcmo-pro.ru</text>
<text x="12" y="3555.7" textLength="490.3" lengthAdjust="spacing">https://tcmo-pro.ru</text>
<text x="674" y="3555.7" textLength="490.3" lengthAdjust="spacing">https://tcmo-pro.ru</text>
<text x="1336" y="3555.7" textLength="490.3" lengthAdjust="spacing">https://tcmo-pro.ru</text>
<text x="1998" y="3555.7" textLength="490.3" lengthAdjust="spacing">https://tcmo-pro.ru</text>
<text x="2660" y="3555.7" textLength="490.3" lengthAdjust="spacing">https://tcmo-pro.ru</text>
<text x="-180.7" y="3690.2" textLength="490.3" lengthAdjust="spacing">https://tcmo-pro.ru</text>
<text x="481.3" y="3690.2" textLength="490.3" lengthAdjust="spacing">https://tcmo-pro.ru</text>
<text x="1143.3" y="3690.2" textLength="490.3" lengthAdjust="spacing">https://tcmo-pro.ru</text>
<text x="1805.3" y="3690.2" textLength="490.3" lengthAdjust="spacing">https://tcmo-pro.ru</text>
<text x="2467.3" y="3690.2" textLength="490.3" lengthAdjust="spacing">https://tcmo-pro.ru</text>
<text x="12" y="3824.7" textLength="490.3" lengthAdjust="spacing">https://tcmo-pro.ru</text>
<text x="674" y="3824.7" textLength="490.3" lengthAdjust="spacing">https://tcmo-pro.ru</text>
<text x="1336" y="3824.7" textLength="490.3" lengthAdjust="spacing">https://tcmo-pro.ru</text>
<text x="1998" y="3824.7" textLength="490.3" lengthAdjust="spacing">https://tcmo-pro.ru</text>
<text x="2660" y="3824.7" textLength="490.3" lengthAdjust="spacing">https://tcmo-pro.ru</text>
<text x="-180.7" y="3959.2" textLength="490.3" lengthAdjust="spacing">https://tcmo-pro.ru</text>
<text x="481.3" y="3959.2" textLength="490.3" lengthAdjust="spacing">https://tcmo-pro.ru</text>
<text x="1143.3" y="3959.2" textLength="490.3" lengthAdjust="spacing">https://tcmo-pro.ru</text>
<text x="1805.3" y="3959.2" textLength="490.3" lengthAdjust="spacing">https://tcmo-pro.ru</text>
<text x="2467.3" y="3959.2" textLength="490.3" lengthAdjust="spacing">https://tcmo-pro.ru</text>
</g>
</svg>
</body></html>
